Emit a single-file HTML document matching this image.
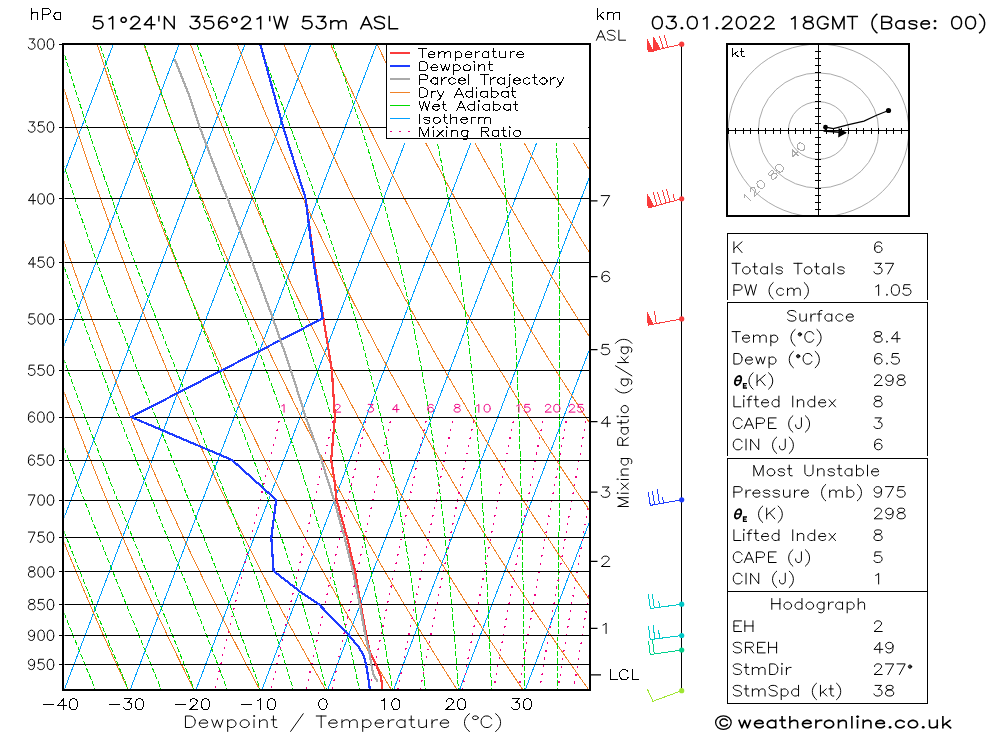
<!DOCTYPE html>
<html><head><meta charset="utf-8"><title>Skew-T</title>
<style>html,body{margin:0;padding:0;background:#fff;}svg{display:block;}body{font-family:"Liberation Sans",sans-serif;}</style></head>
<body>
<svg width="1000" height="733" viewBox="0 0 1000 733" font-family="'Liberation Sans', sans-serif" text-rendering="geometricPrecision">
<defs><path id="h39" d="M4 -21 4 -14" fill="none" stroke-linecap="square" stroke-linejoin="round" vector-effect="non-scaling-stroke"/><path id="h40" d="M11 -25 9 -23 7 -20 5 -16 4 -11 4 -7 5 -2 7 2 9 5 11 7" fill="none" stroke-linecap="square" stroke-linejoin="round" vector-effect="non-scaling-stroke"/><path id="h41" d="M3 -25 5 -23 7 -20 9 -16 10 -11 10 -7 9 -2 7 2 5 5 3 7" fill="none" stroke-linecap="square" stroke-linejoin="round" vector-effect="non-scaling-stroke"/><path id="h45" d="M4 -9 22 -9" fill="none" stroke-linecap="square" stroke-linejoin="round" vector-effect="non-scaling-stroke"/><path id="h46" d="M6 -1 5 -2 4 -1 5 0 6 -1" fill="none" stroke-linecap="square" stroke-linejoin="round" vector-effect="non-scaling-stroke"/><path id="h47" d="M20 -25 2 7" fill="none" stroke-linecap="square" stroke-linejoin="round" vector-effect="non-scaling-stroke"/><path id="h48" d="M17 -9 17 -12 16 -17 14 -20 11 -21 9 -21 6 -20 4 -17 3 -12 3 -9 4 -4 6 -1 9 0 11 0 14 -1 16 -4 17 -9" fill="none" stroke-linecap="square" stroke-linejoin="round" vector-effect="non-scaling-stroke"/><path id="h49" d="M6 -17 8 -18 11 -21 11 0" fill="none" stroke-linecap="square" stroke-linejoin="round" vector-effect="non-scaling-stroke"/><path id="h50" d="M4 -16 4 -17 5 -19 6 -20 8 -21 12 -21 14 -20 15 -19 16 -17 16 -15 15 -13 13 -10 3 0 17 0" fill="none" stroke-linecap="square" stroke-linejoin="round" vector-effect="non-scaling-stroke"/><path id="h51" d="M5 -21 16 -21 10 -13 13 -13 15 -12 16 -11 17 -8 17 -6 16 -3 14 -1 11 0 8 0 5 -1 4 -2 3 -4" fill="none" stroke-linecap="square" stroke-linejoin="round" vector-effect="non-scaling-stroke"/><path id="h52" d="M18 -7 3 -7 13 -21 13 0" fill="none" stroke-linecap="square" stroke-linejoin="round" vector-effect="non-scaling-stroke"/><path id="h53" d="M3 -4 4 -2 5 -1 8 0 11 0 14 -1 16 -3 17 -6 17 -8 16 -11 14 -13 11 -14 8 -14 5 -13 4 -12 5 -21 15 -21" fill="none" stroke-linecap="square" stroke-linejoin="round" vector-effect="non-scaling-stroke"/><path id="h54" d="M16 -18 15 -20 12 -21 10 -21 7 -20 5 -17 4 -12 4 -7 5 -3 7 -1 10 0 11 0 14 -1 16 -3 17 -6 17 -7 16 -10 14 -12 11 -13 10 -13 7 -12 5 -10 4 -7" fill="none" stroke-linecap="square" stroke-linejoin="round" vector-effect="non-scaling-stroke"/><path id="h55" d="M3 -21 17 -21 7 0" fill="none" stroke-linecap="square" stroke-linejoin="round" vector-effect="non-scaling-stroke"/><path id="h56" d="M6 -11 9 -12 13 -13 15 -14 16 -16 16 -18 15 -20 12 -21 8 -21 5 -20 4 -18 4 -16 5 -14 7 -13 11 -12 14 -11 16 -9 17 -7 17 -4 16 -2 15 -1 12 0 8 0 5 -1 4 -2 3 -4 3 -7 4 -9 6 -11" fill="none" stroke-linecap="square" stroke-linejoin="round" vector-effect="non-scaling-stroke"/><path id="h57" d="M16 -14 15 -11 13 -9 10 -8 9 -8 6 -9 4 -11 3 -14 3 -15 4 -18 6 -20 9 -21 10 -21 13 -20 15 -18 16 -14 16 -9 15 -4 13 -1 10 0 8 0 5 -1 4 -3" fill="none" stroke-linecap="square" stroke-linejoin="round" vector-effect="non-scaling-stroke"/><path id="h58" d="M6 -13 5 -14 4 -13 5 -12 6 -13M6 -1 5 -2 4 -1 5 0 6 -1" fill="none" stroke-linecap="square" stroke-linejoin="round" vector-effect="non-scaling-stroke"/><path id="h65" d="M17 0 9 -21 1 0M4 -7 14 -7" fill="none" stroke-linecap="square" stroke-linejoin="round" vector-effect="non-scaling-stroke"/><path id="h66" d="M13 -11 16 -12 17 -13 18 -15 18 -17 17 -19 16 -20 13 -21 4 -21 4 0 13 0 16 -1 17 -2 18 -4 18 -7 17 -9 16 -10 13 -11 4 -11" fill="none" stroke-linecap="square" stroke-linejoin="round" vector-effect="non-scaling-stroke"/><path id="h67" d="M18 -16 17 -18 15 -20 13 -21 9 -21 7 -20 5 -18 4 -16 3 -13 3 -8 4 -5 5 -3 7 -1 9 0 13 0 15 -1 17 -3 18 -5" fill="none" stroke-linecap="square" stroke-linejoin="round" vector-effect="non-scaling-stroke"/><path id="h68" d="M18 -13 17 -16 16 -18 14 -20 11 -21 4 -21 4 0 11 0 14 -1 16 -3 17 -5 18 -8 18 -13" fill="none" stroke-linecap="square" stroke-linejoin="round" vector-effect="non-scaling-stroke"/><path id="h69" d="M17 -21 4 -21 4 0 17 0M4 -11 12 -11" fill="none" stroke-linecap="square" stroke-linejoin="round" vector-effect="non-scaling-stroke"/><path id="h71" d="M18 -16 17 -18 15 -20 13 -21 9 -21 7 -20 5 -18 4 -16 3 -13 3 -8 4 -5 5 -3 7 -1 9 0 13 0 15 -1 17 -3 18 -5 18 -8 13 -8" fill="none" stroke-linecap="square" stroke-linejoin="round" vector-effect="non-scaling-stroke"/><path id="h72" d="M4 -21 4 0M18 -21 18 0M4 -11 18 -11" fill="none" stroke-linecap="square" stroke-linejoin="round" vector-effect="non-scaling-stroke"/><path id="h73" d="M4 -21 4 0" fill="none" stroke-linecap="square" stroke-linejoin="round" vector-effect="non-scaling-stroke"/><path id="h74" d="M12 -21 12 -5 11 -2 10 -1 8 0 6 0 4 -1 3 -2 2 -5 2 -7" fill="none" stroke-linecap="square" stroke-linejoin="round" vector-effect="non-scaling-stroke"/><path id="h75" d="M4 -21 4 0M18 -21 4 -7M9 -12 18 0" fill="none" stroke-linecap="square" stroke-linejoin="round" vector-effect="non-scaling-stroke"/><path id="h76" d="M4 -21 4 0 16 0" fill="none" stroke-linecap="square" stroke-linejoin="round" vector-effect="non-scaling-stroke"/><path id="h77" d="M4 0 4 -21 12 0 20 -21 20 0" fill="none" stroke-linecap="square" stroke-linejoin="round" vector-effect="non-scaling-stroke"/><path id="h78" d="M4 0 4 -21 18 0 18 -21" fill="none" stroke-linecap="square" stroke-linejoin="round" vector-effect="non-scaling-stroke"/><path id="h80" d="M4 -10 13 -10 16 -11 17 -12 18 -14 18 -17 17 -19 16 -20 13 -21 4 -21 4 0" fill="none" stroke-linecap="square" stroke-linejoin="round" vector-effect="non-scaling-stroke"/><path id="h82" d="M4 -11 13 -11 16 -12 17 -13 18 -15 18 -17 17 -19 16 -20 13 -21 4 -21 4 0M11 -11 18 0" fill="none" stroke-linecap="square" stroke-linejoin="round" vector-effect="non-scaling-stroke"/><path id="h83" d="M17 -18 15 -20 12 -21 8 -21 5 -20 3 -18 3 -16 4 -14 5 -13 7 -12 13 -10 15 -9 16 -8 17 -6 17 -3 15 -1 12 0 8 0 5 -1 3 -3" fill="none" stroke-linecap="square" stroke-linejoin="round" vector-effect="non-scaling-stroke"/><path id="h84" d="M8 -21 8 0M1 -21 15 -21" fill="none" stroke-linecap="square" stroke-linejoin="round" vector-effect="non-scaling-stroke"/><path id="h85" d="M4 -21 4 -6 5 -3 7 -1 10 0 12 0 15 -1 17 -3 18 -6 18 -21" fill="none" stroke-linecap="square" stroke-linejoin="round" vector-effect="non-scaling-stroke"/><path id="h87" d="M2 -21 7 0 12 -21 17 0 22 -21" fill="none" stroke-linecap="square" stroke-linejoin="round" vector-effect="non-scaling-stroke"/><path id="h97" d="M15 -14 15 0M15 -11 13 -13 11 -14 8 -14 6 -13 4 -11 3 -8 3 -6 4 -3 6 -1 8 0 11 0 13 -1 15 -3" fill="none" stroke-linecap="square" stroke-linejoin="round" vector-effect="non-scaling-stroke"/><path id="h98" d="M4 -21 4 0M4 -11 6 -13 8 -14 11 -14 13 -13 15 -11 16 -8 16 -6 15 -3 13 -1 11 0 8 0 6 -1 4 -3" fill="none" stroke-linecap="square" stroke-linejoin="round" vector-effect="non-scaling-stroke"/><path id="h99" d="M15 -11 13 -13 11 -14 8 -14 6 -13 4 -11 3 -8 3 -6 4 -3 6 -1 8 0 11 0 13 -1 15 -3" fill="none" stroke-linecap="square" stroke-linejoin="round" vector-effect="non-scaling-stroke"/><path id="h100" d="M15 -21 15 0M15 -11 13 -13 11 -14 8 -14 6 -13 4 -11 3 -8 3 -6 4 -3 6 -1 8 0 11 0 13 -1 15 -3" fill="none" stroke-linecap="square" stroke-linejoin="round" vector-effect="non-scaling-stroke"/><path id="h101" d="M13 -13 11 -14 8 -14 6 -13 4 -11 3 -8 15 -8 15 -10 14 -12 13 -13M3 -8 3 -6 4 -3 6 -1 8 0 11 0 13 -1 15 -3" fill="none" stroke-linecap="square" stroke-linejoin="round" vector-effect="non-scaling-stroke"/><path id="h102" d="M10 -21 8 -21 6 -20 5 -17 5 0M2 -14 9 -14" fill="none" stroke-linecap="square" stroke-linejoin="round" vector-effect="non-scaling-stroke"/><path id="h103" d="M15 -14 15 2 14 5 13 6 11 7 8 7 6 6M15 -11 13 -13 11 -14 8 -14 6 -13 4 -11 3 -8 3 -6 4 -3 6 -1 8 0 11 0 13 -1 15 -3" fill="none" stroke-linecap="square" stroke-linejoin="round" vector-effect="non-scaling-stroke"/><path id="h104" d="M4 -21 4 0M4 -10 7 -13 9 -14 12 -14 14 -13 15 -10 15 0" fill="none" stroke-linecap="square" stroke-linejoin="round" vector-effect="non-scaling-stroke"/><path id="h105" d="M4 -14 4 0M5 -21 4 -22 3 -21 4 -20 5 -21" fill="none" stroke-linecap="square" stroke-linejoin="round" vector-effect="non-scaling-stroke"/><path id="h106" d="M6 -14 6 3 5 6 3 7 1 7M7 -21 6 -22 5 -21 6 -20 7 -21" fill="none" stroke-linecap="square" stroke-linejoin="round" vector-effect="non-scaling-stroke"/><path id="h107" d="M4 -21 4 0M14 -14 4 -4M8 -8 15 0" fill="none" stroke-linecap="square" stroke-linejoin="round" vector-effect="non-scaling-stroke"/><path id="h108" d="M4 -21 4 0" fill="none" stroke-linecap="square" stroke-linejoin="round" vector-effect="non-scaling-stroke"/><path id="h109" d="M4 -14 4 0M26 0 26 -10 25 -13 23 -14 20 -14 18 -13 15 -10 15 0M15 -10 14 -13 12 -14 9 -14 7 -13 4 -10" fill="none" stroke-linecap="square" stroke-linejoin="round" vector-effect="non-scaling-stroke"/><path id="h110" d="M4 -14 4 0M4 -10 7 -13 9 -14 12 -14 14 -13 15 -10 15 0" fill="none" stroke-linecap="square" stroke-linejoin="round" vector-effect="non-scaling-stroke"/><path id="h111" d="M16 -6 16 -8 15 -11 13 -13 11 -14 8 -14 6 -13 4 -11 3 -8 3 -6 4 -3 6 -1 8 0 11 0 13 -1 15 -3 16 -6" fill="none" stroke-linecap="square" stroke-linejoin="round" vector-effect="non-scaling-stroke"/><path id="h112" d="M4 -14 4 7M4 -11 6 -13 8 -14 11 -14 13 -13 15 -11 16 -8 16 -6 15 -3 13 -1 11 0 8 0 6 -1 4 -3" fill="none" stroke-linecap="square" stroke-linejoin="round" vector-effect="non-scaling-stroke"/><path id="h114" d="M4 -14 4 0M12 -14 9 -14 7 -13 5 -11 4 -8" fill="none" stroke-linecap="square" stroke-linejoin="round" vector-effect="non-scaling-stroke"/><path id="h115" d="M14 -11 13 -13 10 -14 7 -14 4 -13 3 -11 4 -9 6 -8 11 -7 13 -6 14 -4 14 -3 13 -1 10 0 7 0 4 -1 3 -3" fill="none" stroke-linecap="square" stroke-linejoin="round" vector-effect="non-scaling-stroke"/><path id="h116" d="M5 -21 5 -4 6 -1 8 0 10 0M2 -14 9 -14" fill="none" stroke-linecap="square" stroke-linejoin="round" vector-effect="non-scaling-stroke"/><path id="h117" d="M15 -14 15 0M4 -14 4 -4 5 -1 7 0 10 0 12 -1 15 -4" fill="none" stroke-linecap="square" stroke-linejoin="round" vector-effect="non-scaling-stroke"/><path id="h119" d="M3 -14 7 0 11 -14 15 0 19 -14" fill="none" stroke-linecap="square" stroke-linejoin="round" vector-effect="non-scaling-stroke"/><path id="h120" d="M3 -14 14 0M14 -14 3 0" fill="none" stroke-linecap="square" stroke-linejoin="round" vector-effect="non-scaling-stroke"/><path id="h121" d="M2 -14 8 0 14 -14M8 0 6 4 4 6 2 7 1 7" fill="none" stroke-linecap="square" stroke-linejoin="round" vector-effect="non-scaling-stroke"/><path id="h176" d="M8.2 -15.6 7.35 -13.27 5.3 -12.3 3.25 -13.27 2.4 -15.6 3.25 -17.93 5.3 -18.9 7.35 -17.93 8.2 -15.6M6.8 -15.6 6.05 -14.04 4.55 -14.04 3.8 -15.6 4.55 -17.16 6.05 -17.16 6.8 -15.6" fill="none" stroke-linecap="square" stroke-linejoin="round" vector-effect="non-scaling-stroke"/><path id="h730" d="M9.8 -17.8 9 -15.8 6.9 -14.57 4.3 -14.57 2.2 -15.8 1.4 -17.8 2.2 -19.8 4.3 -21.03 6.9 -21.03 9 -19.8 9.8 -17.8" fill="none" stroke-linecap="square" stroke-linejoin="round" vector-effect="non-scaling-stroke"/><path id="h8304" d="M10.5 -15.2 9.77 -12.67 7.87 -11.11 5.53 -11.11 3.63 -12.67 2.9 -15.2 3.63 -17.73 5.53 -19.29 7.87 -19.29 9.77 -17.73 10.5 -15.2" fill="none" stroke-linecap="square" stroke-linejoin="round" vector-effect="non-scaling-stroke"/></defs>
<rect x="0" y="0" width="1000" height="733" fill="#fff"/>
<defs><clipPath id="cc"><rect x="64.5" y="44.5" width="524.5" height="645.0"/></clipPath></defs>
<g clip-path="url(#cc)" fill="none" stroke-linecap="butt" shape-rendering="crispEdges">
<path d="M-462.5 689.5 L-215.9 44.0 M-396.6 689.5 L-150.0 44.0 M-330.8 689.5 L-84.2 44.0 M-264.9 689.5 L-18.3 44.0 M-199.0 689.5 L47.5 44.0 M-133.2 689.5 L113.4 44.0 M-67.3 689.5 L179.3 44.0 M-1.5 689.5 L245.1 44.0 M64.4 689.5 L311.0 44.0 M130.3 689.5 L376.8 44.0 M196.1 689.5 L442.7 44.0 M262.0 689.5 L508.6 44.0 M327.8 689.5 L574.4 44.0 M393.7 689.5 L640.3 44.0 M459.6 689.5 L706.1 44.0 M525.4 689.5 L772.0 44.0 M591.3 689.5 L837.9 44.0" stroke="#00a0ff" stroke-width="1.0"/>
<path d="M128.9 691.1 L126.8 686.6 L124.2 681.1 L121.7 675.6 L119.1 670.0 L116.5 664.4 L113.9 658.7 L111.3 652.9 L108.7 647.1 L106.1 641.2 L103.4 635.3 L100.8 629.3 L98.1 623.2 L95.4 617.0 L92.7 610.8 L90.0 604.5 L87.3 598.1 L84.5 591.7 L81.8 585.2 L79.0 578.6 L76.2 571.9 L73.4 565.1 L70.5 558.3 L67.7 551.3 L64.9 544.3 L62.0 537.1 L59.1 529.9 L56.2 522.6 L53.2 515.2 L50.3 507.6 L47.3 500.0 L44.4 492.3 L41.4 484.4 L38.3 476.4 L35.3 468.3 L32.3 460.1 L29.2 451.8 L26.1 443.3 L23.0 434.7 L19.8 425.9 L16.7 417.1 L13.5 408.0 L10.3 398.8 L7.1 389.4 L3.8 379.9 L0.5 370.2 L-2.7 360.3 L-6.1 350.3 L-9.4 340.0 L-12.8 329.6 L-16.2 318.9 L-19.6 308.1 L-23.0 297.0 L-26.5 285.6 L-30.0 274.1 L-33.5 262.2 L-37.0 250.1 L-40.6 237.8 L-44.2 225.1 L-47.8 212.1 L-51.5 198.8 L-55.2 185.2 L-58.9 171.2 L-62.6 156.9 L-66.4 142.1 L-70.2 127.0 L-74.0 111.4 L-77.9 95.3 L-81.8 78.7 L-85.7 61.6 L-89.7 44.0 L-93.6 25.8 M194.7 691.1 L192.5 686.6 L189.7 681.1 L187.0 675.6 L184.2 670.0 L181.4 664.4 L178.6 658.7 L175.8 652.9 L173.0 647.1 L170.2 641.2 L167.3 635.3 L164.5 629.3 L161.6 623.2 L158.7 617.0 L155.8 610.8 L152.9 604.5 L149.9 598.1 L147.0 591.7 L144.0 585.2 L141.0 578.6 L138.0 571.9 L134.9 565.1 L131.9 558.3 L128.8 551.3 L125.7 544.3 L122.6 537.1 L119.5 529.9 L116.4 522.6 L113.2 515.2 L110.0 507.6 L106.8 500.0 L103.6 492.3 L100.3 484.4 L97.1 476.4 L93.8 468.3 L90.5 460.1 L87.1 451.8 L83.8 443.3 L80.4 434.7 L77.0 425.9 L73.6 417.1 L70.1 408.0 L66.6 398.8 L63.1 389.4 L59.6 379.9 L56.1 370.2 L52.5 360.3 L48.9 350.3 L45.2 340.0 L41.6 329.6 L37.9 318.9 L34.1 308.1 L30.4 297.0 L26.6 285.6 L22.8 274.1 L18.9 262.2 L15.1 250.1 L11.1 237.8 L7.2 225.1 L3.2 212.1 L-0.8 198.8 L-4.9 185.2 L-8.9 171.2 L-13.1 156.9 L-17.2 142.1 L-21.4 127.0 L-25.7 111.4 L-29.9 95.3 L-34.2 78.7 L-38.6 61.6 L-43.0 44.0 L-47.4 25.8 M260.6 691.1 L258.1 686.6 L255.2 681.1 L252.3 675.6 L249.3 670.0 L246.3 664.4 L243.4 658.7 L240.4 652.9 L237.3 647.1 L234.3 641.2 L231.2 635.3 L228.2 629.3 L225.1 623.2 L222.0 617.0 L218.9 610.8 L215.7 604.5 L212.6 598.1 L209.4 591.7 L206.2 585.2 L203.0 578.6 L199.8 571.9 L196.5 565.1 L193.2 558.3 L189.9 551.3 L186.6 544.3 L183.3 537.1 L179.9 529.9 L176.6 522.6 L173.2 515.2 L169.7 507.6 L166.3 500.0 L162.8 492.3 L159.3 484.4 L155.8 476.4 L152.3 468.3 L148.7 460.1 L145.1 451.8 L141.5 443.3 L137.9 434.7 L134.2 425.9 L130.5 417.1 L126.8 408.0 L123.0 398.8 L119.2 389.4 L115.4 379.9 L111.6 370.2 L107.7 360.3 L103.8 350.3 L99.9 340.0 L95.9 329.6 L91.9 318.9 L87.8 308.1 L83.8 297.0 L79.7 285.6 L75.5 274.1 L71.3 262.2 L67.1 250.1 L62.9 237.8 L58.6 225.1 L54.2 212.1 L49.9 198.8 L45.5 185.2 L41.0 171.2 L36.5 156.9 L32.0 142.1 L27.4 127.0 L22.7 111.4 L18.0 95.3 L13.3 78.7 L8.5 61.6 L3.7 44.0 L-1.2 25.8 M326.4 691.1 L323.8 686.6 L320.7 681.1 L317.6 675.6 L314.4 670.0 L311.2 664.4 L308.1 658.7 L304.9 652.9 L301.6 647.1 L298.4 641.2 L295.2 635.3 L291.9 629.3 L288.6 623.2 L285.3 617.0 L282.0 610.8 L278.6 604.5 L275.2 598.1 L271.8 591.7 L268.4 585.2 L265.0 578.6 L261.5 571.9 L258.1 565.1 L254.6 558.3 L251.1 551.3 L247.5 544.3 L244.0 537.1 L240.4 529.9 L236.7 522.6 L233.1 515.2 L229.4 507.6 L225.8 500.0 L222.0 492.3 L218.3 484.4 L214.5 476.4 L210.7 468.3 L206.9 460.1 L203.1 451.8 L199.2 443.3 L195.3 434.7 L191.4 425.9 L187.4 417.1 L183.4 408.0 L179.4 398.8 L175.3 389.4 L171.2 379.9 L167.1 370.2 L162.9 360.3 L158.7 350.3 L154.5 340.0 L150.2 329.6 L145.9 318.9 L141.5 308.1 L137.2 297.0 L132.7 285.6 L128.3 274.1 L123.8 262.2 L119.2 250.1 L114.6 237.8 L110.0 225.1 L105.3 212.1 L100.6 198.8 L95.8 185.2 L90.9 171.2 L86.1 156.9 L81.1 142.1 L76.1 127.0 L71.1 111.4 L66.0 95.3 L60.8 78.7 L55.6 61.6 L50.4 44.0 L45.0 25.8 M392.2 691.1 L389.5 686.6 L386.2 681.1 L382.8 675.6 L379.5 670.0 L376.1 664.4 L372.8 658.7 L369.4 652.9 L366.0 647.1 L362.5 641.2 L359.1 635.3 L355.6 629.3 L352.1 623.2 L348.6 617.0 L345.0 610.8 L341.5 604.5 L337.9 598.1 L334.3 591.7 L330.7 585.2 L327.0 578.6 L323.3 571.9 L319.6 565.1 L315.9 558.3 L312.2 551.3 L308.4 544.3 L304.6 537.1 L300.8 529.9 L296.9 522.6 L293.1 515.2 L289.2 507.6 L285.2 500.0 L281.3 492.3 L277.3 484.4 L273.3 476.4 L269.2 468.3 L265.2 460.1 L261.0 451.8 L256.9 443.3 L252.7 434.7 L248.5 425.9 L244.3 417.1 L240.0 408.0 L235.7 398.8 L231.4 389.4 L227.0 379.9 L222.6 370.2 L218.1 360.3 L213.6 350.3 L209.1 340.0 L204.5 329.6 L199.9 318.9 L195.3 308.1 L190.6 297.0 L185.8 285.6 L181.0 274.1 L176.2 262.2 L171.3 250.1 L166.3 237.8 L161.4 225.1 L156.3 212.1 L151.2 198.8 L146.1 185.2 L140.9 171.2 L135.6 156.9 L130.3 142.1 L124.9 127.0 L119.5 111.4 L114.0 95.3 L108.4 78.7 L102.8 61.6 L97.0 44.0 L91.3 25.8 M458.1 691.1 L455.1 686.6 L451.6 681.1 L448.1 675.6 L444.6 670.0 L441.0 664.4 L437.5 658.7 L433.9 652.9 L430.3 647.1 L426.6 641.2 L423.0 635.3 L419.3 629.3 L415.6 623.2 L411.9 617.0 L408.1 610.8 L404.3 604.5 L400.5 598.1 L396.7 591.7 L392.9 585.2 L389.0 578.6 L385.1 571.9 L381.2 565.1 L377.3 558.3 L373.3 551.3 L369.3 544.3 L365.3 537.1 L361.2 529.9 L357.1 522.6 L353.0 515.2 L348.9 507.6 L344.7 500.0 L340.5 492.3 L336.3 484.4 L332.0 476.4 L327.7 468.3 L323.4 460.1 L319.0 451.8 L314.6 443.3 L310.2 434.7 L305.7 425.9 L301.2 417.1 L296.7 408.0 L292.1 398.8 L287.5 389.4 L282.8 379.9 L278.1 370.2 L273.3 360.3 L268.6 350.3 L263.7 340.0 L258.9 329.6 L253.9 318.9 L249.0 308.1 L243.9 297.0 L238.9 285.6 L233.8 274.1 L228.6 262.2 L223.4 250.1 L218.1 237.8 L212.8 225.1 L207.4 212.1 L201.9 198.8 L196.4 185.2 L190.8 171.2 L185.2 156.9 L179.5 142.1 L173.7 127.0 L167.8 111.4 L161.9 95.3 L155.9 78.7 L149.9 61.6 L143.7 44.0 L137.5 25.8 M523.9 691.1 L520.8 686.6 L517.1 681.1 L513.4 675.6 L509.7 670.0 L505.9 664.4 L502.2 658.7 L498.4 652.9 L494.6 647.1 L490.7 641.2 L486.9 635.3 L483.0 629.3 L479.1 623.2 L475.1 617.0 L471.2 610.8 L467.2 604.5 L463.2 598.1 L459.2 591.7 L455.1 585.2 L451.0 578.6 L446.9 571.9 L442.8 565.1 L438.6 558.3 L434.4 551.3 L430.2 544.3 L425.9 537.1 L421.6 529.9 L417.3 522.6 L413.0 515.2 L408.6 507.6 L404.2 500.0 L399.7 492.3 L395.3 484.4 L390.7 476.4 L386.2 468.3 L381.6 460.1 L377.0 451.8 L372.3 443.3 L367.6 434.7 L362.9 425.9 L358.1 417.1 L353.3 408.0 L348.4 398.8 L343.5 389.4 L338.6 379.9 L333.6 370.2 L328.6 360.3 L323.5 350.3 L318.4 340.0 L313.2 329.6 L307.9 318.9 L302.7 308.1 L297.3 297.0 L291.9 285.6 L286.5 274.1 L281.0 262.2 L275.4 250.1 L269.8 237.8 L264.1 225.1 L258.4 212.1 L252.6 198.8 L246.7 185.2 L240.8 171.2 L234.7 156.9 L228.6 142.1 L222.5 127.0 L216.2 111.4 L209.9 95.3 L203.5 78.7 L197.0 61.6 L190.4 44.0 L183.7 25.8 M589.7 691.1 L586.5 686.6 L582.6 681.1 L578.7 675.6 L574.8 670.0 L570.8 664.4 L566.9 658.7 L562.9 652.9 L558.9 647.1 L554.8 641.2 L550.8 635.3 L546.7 629.3 L542.6 623.2 L538.4 617.0 L534.3 610.8 L530.1 604.5 L525.9 598.1 L521.6 591.7 L517.3 585.2 L513.0 578.6 L508.7 571.9 L504.3 565.1 L499.9 558.3 L495.5 551.3 L491.1 544.3 L486.6 537.1 L482.1 529.9 L477.5 522.6 L472.9 515.2 L468.3 507.6 L463.7 500.0 L459.0 492.3 L454.2 484.4 L449.5 476.4 L444.7 468.3 L439.8 460.1 L435.0 451.8 L430.0 443.3 L425.1 434.7 L420.1 425.9 L415.0 417.1 L409.9 408.0 L404.8 398.8 L399.6 389.4 L394.4 379.9 L389.1 370.2 L383.8 360.3 L378.4 350.3 L373.0 340.0 L367.5 329.6 L362.0 318.9 L356.4 308.1 L350.7 297.0 L345.0 285.6 L339.2 274.1 L333.4 262.2 L327.5 250.1 L321.6 237.8 L315.5 225.1 L309.4 212.1 L303.3 198.8 L297.0 185.2 L290.7 171.2 L284.3 156.9 L277.8 142.1 L271.3 127.0 L264.6 111.4 L257.9 95.3 L251.0 78.7 L244.1 61.6 L237.1 44.0 L229.9 25.8 M655.6 691.1 L652.2 686.6 L648.1 681.1 L644.0 675.6 L639.9 670.0 L635.7 664.4 L631.6 658.7 L627.4 652.9 L623.2 647.1 L618.9 641.2 L614.7 635.3 L610.4 629.3 L606.1 623.2 L601.7 617.0 L597.3 610.8 L592.9 604.5 L588.5 598.1 L584.1 591.7 L579.6 585.2 L575.0 578.6 L570.5 571.9 L565.9 565.1 L561.3 558.3 L556.6 551.3 L552.0 544.3 L547.2 537.1 L542.5 529.9 L537.7 522.6 L532.9 515.2 L528.0 507.6 L523.1 500.0 L518.2 492.3 L513.2 484.4 L508.2 476.4 L503.2 468.3 L498.1 460.1 L492.9 451.8 L487.7 443.3 L482.5 434.7 L477.2 425.9 L471.9 417.1 L466.6 408.0 L461.2 398.8 L455.7 389.4 L450.2 379.9 L444.6 370.2 L439.0 360.3 L433.3 350.3 L427.6 340.0 L421.8 329.6 L416.0 318.9 L410.1 308.1 L404.1 297.0 L398.1 285.6 L392.0 274.1 L385.8 262.2 L379.6 250.1 L373.3 237.8 L366.9 225.1 L360.5 212.1 L353.9 198.8 L347.3 185.2 L340.6 171.2 L333.9 156.9 L327.0 142.1 L320.0 127.0 L313.0 111.4 L305.8 95.3 L298.6 78.7 L291.2 61.6 L283.7 44.0 L276.2 25.8 M721.4 691.1 L717.8 686.6 L713.6 681.1 L709.3 675.6 L705.0 670.0 L700.6 664.4 L696.3 658.7 L691.9 652.9 L687.5 647.1 L683.1 641.2 L678.6 635.3 L674.1 629.3 L669.6 623.2 L665.0 617.0 L660.4 610.8 L655.8 604.5 L651.2 598.1 L646.5 591.7 L641.8 585.2 L637.1 578.6 L632.3 571.9 L627.5 565.1 L622.6 558.3 L617.8 551.3 L612.8 544.3 L607.9 537.1 L602.9 529.9 L597.9 522.6 L592.8 515.2 L587.7 507.6 L582.6 500.0 L577.4 492.3 L572.2 484.4 L566.9 476.4 L561.6 468.3 L556.3 460.1 L550.9 451.8 L545.4 443.3 L540.0 434.7 L534.4 425.9 L528.8 417.1 L523.2 408.0 L517.5 398.8 L511.8 389.4 L506.0 379.9 L500.1 370.2 L494.2 360.3 L488.3 350.3 L482.2 340.0 L476.1 329.6 L470.0 318.9 L463.8 308.1 L457.5 297.0 L451.2 285.6 L444.7 274.1 L438.2 262.2 L431.7 250.1 L425.0 237.8 L418.3 225.1 L411.5 212.1 L404.6 198.8 L397.6 185.2 L390.6 171.2 L383.4 156.9 L376.2 142.1 L368.8 127.0 L361.3 111.4 L353.8 95.3 L346.1 78.7 L338.3 61.6 L330.4 44.0 L322.4 25.8 M787.2 691.1 L783.5 686.6 L779.0 681.1 L774.6 675.6 L770.1 670.0 L765.5 664.4 L761.0 658.7 L756.4 652.9 L751.8 647.1 L747.2 641.2 L742.5 635.3 L737.8 629.3 L733.1 623.2 L728.3 617.0 L723.5 610.8 L718.7 604.5 L713.8 598.1 L708.9 591.7 L704.0 585.2 L699.1 578.6 L694.1 571.9 L689.0 565.1 L684.0 558.3 L678.9 551.3 L673.7 544.3 L668.6 537.1 L663.3 529.9 L658.1 522.6 L652.8 515.2 L647.5 507.6 L642.1 500.0 L636.6 492.3 L631.2 484.4 L625.7 476.4 L620.1 468.3 L614.5 460.1 L608.9 451.8 L603.2 443.3 L597.4 434.7 L591.6 425.9 L585.7 417.1 L579.8 408.0 L573.9 398.8 L567.9 389.4 L561.8 379.9 L555.6 370.2 L549.4 360.3 L543.2 350.3 L536.9 340.0 L530.5 329.6 L524.0 318.9 L517.5 308.1 L510.9 297.0 L504.2 285.6 L497.5 274.1 L490.7 262.2 L483.8 250.1 L476.8 237.8 L469.7 225.1 L462.5 212.1 L455.3 198.8 L447.9 185.2 L440.5 171.2 L433.0 156.9 L425.3 142.1 L417.6 127.0 L409.7 111.4 L401.7 95.3 L393.7 78.7 L385.4 61.6 L377.1 44.0 L368.6 25.8 M853.0 691.1 L849.2 686.6 L844.5 681.1 L839.9 675.6 L835.2 670.0 L830.4 664.4 L825.7 658.7 L820.9 652.9 L816.1 647.1 L811.3 641.2 L806.4 635.3 L801.5 629.3 L796.6 623.2 L791.6 617.0 L786.6 610.8 L781.6 604.5 L776.5 598.1 L771.4 591.7 L766.2 585.2 L761.1 578.6 L755.9 571.9 L750.6 565.1 L745.3 558.3 L740.0 551.3 L734.6 544.3 L729.2 537.1 L723.8 529.9 L718.3 522.6 L712.7 515.2 L707.2 507.6 L701.5 500.0 L695.9 492.3 L690.2 484.4 L684.4 476.4 L678.6 468.3 L672.7 460.1 L666.8 451.8 L660.9 443.3 L654.8 434.7 L648.8 425.9 L642.7 417.1 L636.5 408.0 L630.2 398.8 L623.9 389.4 L617.6 379.9 L611.1 370.2 L604.7 360.3 L598.1 350.3 L591.5 340.0 L584.8 329.6 L578.0 318.9 L571.2 308.1 L564.3 297.0 L557.3 285.6 L550.2 274.1 L543.1 262.2 L535.8 250.1 L528.5 237.8 L521.1 225.1 L513.6 212.1 L506.0 198.8 L498.3 185.2 L490.5 171.2 L482.5 156.9 L474.5 142.1 L466.4 127.0 L458.1 111.4 L449.7 95.3 L441.2 78.7 L432.5 61.6 L423.8 44.0 L414.8 25.8 M918.9 691.1 L914.8 686.6 L910.0 681.1 L905.2 675.6 L900.3 670.0 L895.3 664.4 L890.4 658.7 L885.4 652.9 L880.4 647.1 L875.4 641.2 L870.3 635.3 L865.2 629.3 L860.1 623.2 L854.9 617.0 L849.7 610.8 L844.4 604.5 L839.1 598.1 L833.8 591.7 L828.5 585.2 L823.1 578.6 L817.6 571.9 L812.2 565.1 L806.7 558.3 L801.1 551.3 L795.5 544.3 L789.9 537.1 L784.2 529.9 L778.5 522.6 L772.7 515.2 L766.9 507.6 L761.0 500.0 L755.1 492.3 L749.1 484.4 L743.1 476.4 L737.1 468.3 L731.0 460.1 L724.8 451.8 L718.6 443.3 L712.3 434.7 L706.0 425.9 L699.6 417.1 L693.1 408.0 L686.6 398.8 L680.0 389.4 L673.4 379.9 L666.7 370.2 L659.9 360.3 L653.0 350.3 L646.1 340.0 L639.1 329.6 L632.0 318.9 L624.9 308.1 L617.7 297.0 L610.4 285.6 L603.0 274.1 L595.5 262.2 L587.9 250.1 L580.2 237.8 L572.5 225.1 L564.6 212.1 L556.6 198.8 L548.6 185.2 L540.4 171.2 L532.1 156.9 L523.7 142.1 L515.1 127.0 L506.5 111.4 L497.7 95.3 L488.7 78.7 L479.7 61.6 L470.4 44.0 L461.0 25.8 M984.7 691.1 L980.5 686.6 L975.5 681.1 L970.4 675.6 L965.4 670.0 L960.2 664.4 L955.1 658.7 L949.9 652.9 L944.7 647.1 L939.5 641.2 L934.2 635.3 L928.9 629.3 L923.5 623.2 L918.2 617.0 L912.7 610.8 L907.3 604.5 L901.8 598.1 L896.3 591.7 L890.7 585.2 L885.1 578.6 L879.4 571.9 L873.7 565.1 L868.0 558.3 L862.2 551.3 L856.4 544.3 L850.5 537.1 L844.6 529.9 L838.7 522.6 L832.7 515.2 L826.6 507.6 L820.5 500.0 L814.3 492.3 L808.1 484.4 L801.9 476.4 L795.6 468.3 L789.2 460.1 L782.8 451.8 L776.3 443.3 L769.7 434.7 L763.1 425.9 L756.5 417.1 L749.7 408.0 L742.9 398.8 L736.1 389.4 L729.2 379.9 L722.2 370.2 L715.1 360.3 L708.0 350.3 L700.7 340.0 L693.4 329.6 L686.1 318.9 L678.6 308.1 L671.1 297.0 L663.4 285.6 L655.7 274.1 L647.9 262.2 L640.0 250.1 L632.0 237.8 L623.9 225.1 L615.6 212.1 L607.3 198.8 L598.9 185.2 L590.3 171.2 L581.7 156.9 L572.9 142.1 L563.9 127.0 L554.9 111.4 L545.6 95.3 L536.3 78.7 L526.8 61.6 L517.1 44.0 L507.3 25.8 M1050.5 691.1 L1046.2 686.6 L1041.0 681.1 L1035.7 675.6 L1030.5 670.0 L1025.2 664.4 L1019.8 658.7 L1014.4 652.9 L1009.0 647.1 L1003.6 641.2 L998.1 635.3 L992.6 629.3 L987.0 623.2 L981.5 617.0 L975.8 610.8 L970.2 604.5 L964.5 598.1 L958.7 591.7 L952.9 585.2 L947.1 578.6 L941.2 571.9 L935.3 565.1 L929.3 558.3 L923.3 551.3 L917.3 544.3 L911.2 537.1 L905.0 529.9 L898.9 522.6 L892.6 515.2 L886.3 507.6 L880.0 500.0 L873.6 492.3 L867.1 484.4 L860.6 476.4 L854.0 468.3 L847.4 460.1 L840.7 451.8 L834.0 443.3 L827.2 434.7 L820.3 425.9 L813.4 417.1 L806.4 408.0 L799.3 398.8 L792.2 389.4 L785.0 379.9 L777.7 370.2 L770.3 360.3 L762.9 350.3 L755.4 340.0 L747.8 329.6 L740.1 318.9 L732.3 308.1 L724.4 297.0 L716.5 285.6 L708.5 274.1 L700.3 262.2 L692.1 250.1 L683.7 237.8 L675.3 225.1 L666.7 212.1 L658.0 198.8 L649.2 185.2 L640.3 171.2 L631.2 156.9 L622.0 142.1 L612.7 127.0 L603.2 111.4 L593.6 95.3 L583.8 78.7 L573.9 61.6 L563.8 44.0 L553.5 25.8 M1116.4 691.1 L1111.8 686.6 L1106.4 681.1 L1101.0 675.6 L1095.6 670.0 L1090.1 664.4 L1084.5 658.7 L1078.9 652.9 L1073.3 647.1 L1067.7 641.2 L1062.0 635.3 L1056.3 629.3 L1050.5 623.2 L1044.7 617.0 L1038.9 610.8 L1033.0 604.5 L1027.1 598.1 L1021.1 591.7 L1015.1 585.2 L1009.1 578.6 L1003.0 571.9 L996.9 565.1 L990.7 558.3 L984.5 551.3 L978.2 544.3 L971.8 537.1 L965.5 529.9 L959.0 522.6 L952.6 515.2 L946.0 507.6 L939.4 500.0 L932.8 492.3 L926.1 484.4 L919.3 476.4 L912.5 468.3 L905.6 460.1 L898.7 451.8 L891.7 443.3 L884.6 434.7 L877.5 425.9 L870.3 417.1 L863.0 408.0 L855.7 398.8 L848.2 389.4 L840.8 379.9 L833.2 370.2 L825.5 360.3 L817.8 350.3 L810.0 340.0 L802.1 329.6 L794.1 318.9 L786.0 308.1 L777.8 297.0 L769.6 285.6 L761.2 274.1 L752.7 262.2 L744.1 250.1 L735.4 237.8 L726.6 225.1 L717.7 212.1 L708.7 198.8 L699.5 185.2 L690.2 171.2 L680.8 156.9 L671.2 142.1 L661.5 127.0 L651.6 111.4 L641.6 95.3 L631.4 78.7 L621.0 61.6 L610.5 44.0 L599.7 25.8 M1182.2 691.1 L1177.5 686.6 L1171.9 681.1 L1166.3 675.6 L1160.6 670.0 L1155.0 664.4 L1149.2 658.7 L1143.5 652.9 L1137.6 647.1 L1131.8 641.2 L1125.9 635.3 L1120.0 629.3 L1114.0 623.2 L1108.0 617.0 L1102.0 610.8 L1095.9 604.5 L1089.8 598.1 L1083.6 591.7 L1077.4 585.2 L1071.1 578.6 L1064.8 571.9 L1058.4 565.1 L1052.0 558.3 L1045.6 551.3 L1039.1 544.3 L1032.5 537.1 L1025.9 529.9 L1019.2 522.6 L1012.5 515.2 L1005.7 507.6 L998.9 500.0 L992.0 492.3 L985.1 484.4 L978.1 476.4 L971.0 468.3 L963.9 460.1 L956.7 451.8 L949.4 443.3 L942.1 434.7 L934.7 425.9 L927.2 417.1 L919.6 408.0 L912.0 398.8 L904.3 389.4 L896.6 379.9 L888.7 370.2 L880.8 360.3 L872.7 350.3 L864.6 340.0 L856.4 329.6 L848.1 318.9 L839.7 308.1 L831.2 297.0 L822.6 285.6 L813.9 274.1 L805.1 262.2 L796.2 250.1 L787.2 237.8 L778.0 225.1 L768.8 212.1 L759.4 198.8 L749.8 185.2 L740.1 171.2 L730.3 156.9 L720.4 142.1 L710.3 127.0 L700.0 111.4 L689.5 95.3 L678.9 78.7 L668.1 61.6 L657.1 44.0 L645.9 25.8 M1248.0 691.1 L1243.2 686.6 L1237.4 681.1 L1231.6 675.6 L1225.7 670.0 L1219.9 664.4 L1213.9 658.7 L1208.0 652.9 L1202.0 647.1 L1195.9 641.2 L1189.8 635.3 L1183.7 629.3 L1177.5 623.2 L1171.3 617.0 L1165.1 610.8 L1158.8 604.5 L1152.4 598.1 L1146.0 591.7 L1139.6 585.2 L1133.1 578.6 L1126.6 571.9 L1120.0 565.1 L1113.4 558.3 L1106.7 551.3 L1100.0 544.3 L1093.2 537.1 L1086.3 529.9 L1079.4 522.6 L1072.5 515.2 L1065.5 507.6 L1058.4 500.0 L1051.3 492.3 L1044.1 484.4 L1036.8 476.4 L1029.5 468.3 L1022.1 460.1 L1014.6 451.8 L1007.1 443.3 L999.5 434.7 L991.8 425.9 L984.1 417.1 L976.3 408.0 L968.4 398.8 L960.4 389.4 L952.3 379.9 L944.2 370.2 L936.0 360.3 L927.7 350.3 L919.2 340.0 L910.7 329.6 L902.1 318.9 L893.4 308.1 L884.6 297.0 L875.7 285.6 L866.7 274.1 L857.5 262.2 L848.3 250.1 L838.9 237.8 L829.4 225.1 L819.8 212.1 L810.0 198.8 L800.1 185.2 L790.1 171.2 L779.9 156.9 L769.5 142.1 L759.0 127.0 L748.4 111.4 L737.5 95.3 L726.5 78.7 L715.2 61.6 L703.8 44.0 L692.2 25.8 M1313.9 691.1 L1308.9 686.6 L1302.9 681.1 L1296.9 675.6 L1290.8 670.0 L1284.8 664.4 L1278.6 658.7 L1272.5 652.9 L1266.3 647.1 L1260.0 641.2 L1253.7 635.3 L1247.4 629.3 L1241.0 623.2 L1234.6 617.0 L1228.1 610.8 L1221.6 604.5 L1215.1 598.1 L1208.5 591.7 L1201.8 585.2 L1195.1 578.6 L1188.4 571.9 L1181.6 565.1 L1174.7 558.3 L1167.8 551.3 L1160.8 544.3 L1153.8 537.1 L1146.7 529.9 L1139.6 522.6 L1132.4 515.2 L1125.2 507.6 L1117.9 500.0 L1110.5 492.3 L1103.0 484.4 L1095.5 476.4 L1088.0 468.3 L1080.3 460.1 L1072.6 451.8 L1064.8 443.3 L1057.0 434.7 L1049.0 425.9 L1041.0 417.1 L1032.9 408.0 L1024.7 398.8 L1016.5 389.4 L1008.1 379.9 L999.7 370.2 L991.2 360.3 L982.6 350.3 L973.9 340.0 L965.1 329.6 L956.1 318.9 L947.1 308.1 L938.0 297.0 L928.8 285.6 L919.4 274.1 L910.0 262.2 L900.4 250.1 L890.7 237.8 L880.8 225.1 L870.8 212.1 L860.7 198.8 L850.4 185.2 L840.0 171.2 L829.5 156.9 L818.7 142.1 L807.8 127.0 L796.7 111.4 L785.5 95.3 L774.0 78.7 L762.3 61.6 L750.5 44.0 L738.4 25.8 M1379.7 691.1 L1374.5 686.6 L1368.4 681.1 L1362.2 675.6 L1355.9 670.0 L1349.7 664.4 L1343.3 658.7 L1337.0 652.9 L1330.6 647.1 L1324.1 641.2 L1317.6 635.3 L1311.1 629.3 L1304.5 623.2 L1297.9 617.0 L1291.2 610.8 L1284.5 604.5 L1277.7 598.1 L1270.9 591.7 L1264.1 585.2 L1257.1 578.6 L1250.2 571.9 L1243.1 565.1 L1236.1 558.3 L1228.9 551.3 L1221.7 544.3 L1214.5 537.1 L1207.2 529.9 L1199.8 522.6 L1192.4 515.2 L1184.9 507.6 L1177.3 500.0 L1169.7 492.3 L1162.0 484.4 L1154.3 476.4 L1146.4 468.3 L1138.5 460.1 L1130.6 451.8 L1122.5 443.3 L1114.4 434.7 L1106.2 425.9 L1097.9 417.1 L1089.6 408.0 L1081.1 398.8 L1072.6 389.4 L1063.9 379.9 L1055.2 370.2 L1046.4 360.3 L1037.5 350.3 L1028.5 340.0 L1019.4 329.6 L1010.2 318.9 L1000.8 308.1 L991.4 297.0 L981.8 285.6 L972.2 274.1 L962.4 262.2 L952.4 250.1 L942.4 237.8 L932.2 225.1 L921.9 212.1 L911.4 198.8 L900.8 185.2 L890.0 171.2 L879.0 156.9 L867.9 142.1 L856.6 127.0 L845.1 111.4 L833.4 95.3 L821.5 78.7 L809.5 61.6 L797.2 44.0 L784.6 25.8 M1445.5 691.1 L1440.2 686.6 L1433.9 681.1 L1427.5 675.6 L1421.0 670.0 L1414.6 664.4 L1408.0 658.7 L1401.5 652.9 L1394.9 647.1 L1388.2 641.2 L1381.5 635.3 L1374.8 629.3 L1368.0 623.2 L1361.2 617.0 L1354.3 610.8 L1347.4 604.5 L1340.4 598.1 L1333.4 591.7 L1326.3 585.2 L1319.1 578.6 L1311.9 571.9 L1304.7 565.1 L1297.4 558.3 L1290.0 551.3 L1282.6 544.3 L1275.1 537.1 L1267.6 529.9 L1260.0 522.6 L1252.3 515.2 L1244.6 507.6 L1236.8 500.0 L1228.9 492.3 L1221.0 484.4 L1213.0 476.4 L1204.9 468.3 L1196.8 460.1 L1188.5 451.8 L1180.2 443.3 L1171.8 434.7 L1163.4 425.9 L1154.8 417.1 L1146.2 408.0 L1137.5 398.8 L1128.6 389.4 L1119.7 379.9 L1110.7 370.2 L1101.6 360.3 L1092.4 350.3 L1083.1 340.0 L1073.7 329.6 L1064.2 318.9 L1054.5 308.1 L1044.8 297.0 L1034.9 285.6 L1024.9 274.1 L1014.8 262.2 L1004.5 250.1 L994.1 237.8 L983.6 225.1 L972.9 212.1 L962.1 198.8 L951.1 185.2 L939.9 171.2 L928.6 156.9 L917.1 142.1 L905.4 127.0 L893.5 111.4 L881.4 95.3 L869.1 78.7 L856.6 61.6 L843.8 44.0 L830.8 25.8 M1511.3 691.1 L1505.9 686.6 L1499.3 681.1 L1492.7 675.6 L1486.1 670.0 L1479.5 664.4 L1472.7 658.7 L1466.0 652.9 L1459.2 647.1 L1452.3 641.2 L1445.4 635.3 L1438.5 629.3 L1431.5 623.2 L1424.5 617.0 L1417.4 610.8 L1410.2 604.5 L1403.0 598.1 L1395.8 591.7 L1388.5 585.2 L1381.1 578.6 L1373.7 571.9 L1366.3 565.1 L1358.7 558.3 L1351.2 551.3 L1343.5 544.3 L1335.8 537.1 L1328.0 529.9 L1320.2 522.6 L1312.3 515.2 L1304.3 507.6 L1296.3 500.0 L1288.2 492.3 L1280.0 484.4 L1271.7 476.4 L1263.4 468.3 L1255.0 460.1 L1246.5 451.8 L1237.9 443.3 L1229.3 434.7 L1220.6 425.9 L1211.7 417.1 L1202.8 408.0 L1193.8 398.8 L1184.7 389.4 L1175.5 379.9 L1166.2 370.2 L1156.8 360.3 L1147.3 350.3 L1137.7 340.0 L1128.0 329.6 L1118.2 318.9 L1108.2 308.1 L1098.2 297.0 L1088.0 285.6 L1077.7 274.1 L1067.2 262.2 L1056.6 250.1 L1045.9 237.8 L1035.0 225.1 L1023.9 212.1 L1012.7 198.8 L1001.4 185.2 L989.8 171.2 L978.1 156.9 L966.2 142.1 L954.1 127.0 L941.9 111.4 L929.4 95.3 L916.6 78.7 L903.7 61.6 L890.5 44.0 L877.1 25.8 M1577.2 691.1 L1571.5 686.6 L1564.8 681.1 L1558.0 675.6 L1551.2 670.0 L1544.4 664.4 L1537.4 658.7 L1530.5 652.9 L1523.5 647.1 L1516.4 641.2 L1509.4 635.3 L1502.2 629.3 L1495.0 623.2 L1487.8 617.0 L1480.5 610.8 L1473.1 604.5 L1465.7 598.1 L1458.2 591.7 L1450.7 585.2 L1443.2 578.6 L1435.5 571.9 L1427.8 565.1 L1420.1 558.3 L1412.3 551.3 L1404.4 544.3 L1396.5 537.1 L1388.5 529.9 L1380.4 522.6 L1372.2 515.2 L1364.0 507.6 L1355.7 500.0 L1347.4 492.3 L1339.0 484.4 L1330.5 476.4 L1321.9 468.3 L1313.2 460.1 L1304.5 451.8 L1295.6 443.3 L1286.7 434.7 L1277.7 425.9 L1268.6 417.1 L1259.5 408.0 L1250.2 398.8 L1240.8 389.4 L1231.3 379.9 L1221.7 370.2 L1212.1 360.3 L1202.3 350.3 L1192.4 340.0 L1182.3 329.6 L1172.2 318.9 L1162.0 308.1 L1151.6 297.0 L1141.0 285.6 L1130.4 274.1 L1119.6 262.2 L1108.7 250.1 L1097.6 237.8 L1086.4 225.1 L1075.0 212.1 L1063.4 198.8 L1051.7 185.2 L1039.8 171.2 L1027.7 156.9 L1015.4 142.1 L1002.9 127.0 L990.2 111.4 L977.3 95.3 L964.2 78.7 L950.8 61.6 L937.2 44.0 L923.3 25.8" stroke="#f08228" stroke-width="1.0"/>
<path d="M64.0 693.3 L61.8 687.9 L59.6 682.5 L57.3 677.0 L55.0 671.4 L52.8 665.8 L50.5 660.1 L48.2 654.4 L45.8 648.6 L43.5 642.7 L41.1 636.8 L38.8 630.8 L36.4 624.7 L34.0 618.6 L31.5 612.4 L29.1 606.1 L26.6 599.7 L24.2 593.3 L21.7 586.8 L19.2 580.2 L16.6 573.6 L14.1 566.8 L11.6 560.0 L9.0 553.1 L6.4 546.0 L3.8 538.9 L1.2 531.7 L-1.5 524.4 L-4.1 517.0 L-6.8 509.5 L-9.5 501.9 L-12.2 494.2 L-14.9 486.4 L-17.7 478.4 L-20.4 470.4 L-23.2 462.2 L-26.0 453.9 L-28.8 445.4 L-31.7 436.9 L-34.5 428.1 L-37.4 419.3 L-40.3 410.3 L-43.2 401.1 L-46.1 391.8 L-49.1 382.3 L-52.0 372.7 L-55.0 362.8 L-58.0 352.8 L-61.1 342.6 L-64.1 332.2 L-67.2 321.6 L-70.3 310.8 L-73.4 299.8 L-76.5 288.5 L-79.7 277.0 L-82.9 265.2 L-86.1 253.2 L-89.3 240.9 L-92.5 228.3 L-95.8 215.4 L-99.1 202.2 L-102.4 188.6 L-105.7 174.8 L-109.1 160.5 L-112.5 145.9 L-115.9 130.8 L-119.3 115.3 L-122.7 99.4 L-126.2 82.9 L-129.7 66.0 L-133.2 48.5 L-136.7 30.4 L-137.6 25.8 M96.9 693.3 L94.7 687.9 L92.4 682.5 L90.2 677.0 L87.8 671.4 L85.5 665.8 L83.2 660.1 L80.8 654.4 L78.5 648.6 L76.1 642.7 L73.6 636.8 L71.2 630.8 L68.8 624.7 L66.3 618.6 L63.8 612.4 L61.3 606.1 L58.8 599.7 L56.2 593.3 L53.6 586.8 L51.1 580.2 L48.5 573.6 L45.8 566.8 L43.2 560.0 L40.5 553.1 L37.8 546.0 L35.1 538.9 L32.4 531.7 L29.7 524.4 L26.9 517.0 L24.2 509.5 L21.4 501.9 L18.5 494.2 L15.7 486.4 L12.8 478.4 L10.0 470.4 L7.1 462.2 L4.1 453.9 L1.2 445.4 L-1.8 436.9 L-4.7 428.1 L-7.8 419.3 L-10.8 410.3 L-13.8 401.1 L-16.9 391.8 L-20.0 382.3 L-23.1 372.7 L-26.2 362.8 L-29.4 352.8 L-32.6 342.6 L-35.8 332.2 L-39.0 321.6 L-42.3 310.8 L-45.5 299.8 L-48.8 288.5 L-52.2 277.0 L-55.5 265.2 L-58.9 253.2 L-62.3 240.9 L-65.7 228.3 L-69.1 215.4 L-72.6 202.2 L-76.1 188.6 L-79.6 174.8 L-83.2 160.5 L-86.8 145.9 L-90.4 130.8 L-94.0 115.3 L-97.7 99.4 L-101.4 82.9 L-105.1 66.0 L-108.8 48.5 L-112.6 30.4 L-113.5 25.8 M129.9 693.3 L127.6 687.9 L125.4 682.5 L123.1 677.0 L120.8 671.4 L118.4 665.8 L116.1 660.1 L113.7 654.4 L111.3 648.6 L108.9 642.7 L106.4 636.8 L104.0 630.8 L101.5 624.7 L98.9 618.6 L96.4 612.4 L93.9 606.1 L91.3 599.7 L88.7 593.3 L86.0 586.8 L83.4 580.2 L80.7 573.6 L78.0 566.8 L75.3 560.0 L72.6 553.1 L69.8 546.0 L67.0 538.9 L64.2 531.7 L61.4 524.4 L58.5 517.0 L55.7 509.5 L52.8 501.9 L49.8 494.2 L46.9 486.4 L43.9 478.4 L40.9 470.4 L37.9 462.2 L34.9 453.9 L31.8 445.4 L28.7 436.9 L25.6 428.1 L22.5 419.3 L19.3 410.3 L16.2 401.1 L13.0 391.8 L9.7 382.3 L6.5 372.7 L3.2 362.8 L-0.1 352.8 L-3.5 342.6 L-6.8 332.2 L-10.2 321.6 L-13.6 310.8 L-17.0 299.8 L-20.5 288.5 L-24.0 277.0 L-27.5 265.2 L-31.1 253.2 L-34.7 240.9 L-38.3 228.3 L-41.9 215.4 L-45.6 202.2 L-49.2 188.6 L-53.0 174.8 L-56.7 160.5 L-60.5 145.9 L-64.3 130.8 L-68.2 115.3 L-72.0 99.4 L-75.9 82.9 L-79.9 66.0 L-83.9 48.5 L-87.8 30.4 L-88.9 25.8 M162.8 693.3 L160.6 687.9 L158.4 682.5 L156.1 677.0 L153.8 671.4 L151.5 665.8 L149.2 660.1 L146.8 654.4 L144.4 648.6 L142.0 642.7 L139.5 636.8 L137.1 630.8 L134.6 624.7 L132.0 618.6 L129.5 612.4 L126.9 606.1 L124.3 599.7 L121.7 593.3 L119.0 586.8 L116.3 580.2 L113.6 573.6 L110.9 566.8 L108.1 560.0 L105.3 553.1 L102.5 546.0 L99.6 538.9 L96.7 531.7 L93.8 524.4 L90.9 517.0 L88.0 509.5 L85.0 501.9 L82.0 494.2 L78.9 486.4 L75.9 478.4 L72.8 470.4 L69.6 462.2 L66.5 453.9 L63.3 445.4 L60.1 436.9 L56.9 428.1 L53.6 419.3 L50.4 410.3 L47.0 401.1 L43.7 391.8 L40.3 382.3 L36.9 372.7 L33.5 362.8 L30.1 352.8 L26.6 342.6 L23.1 332.2 L19.5 321.6 L15.9 310.8 L12.3 299.8 L8.7 288.5 L5.0 277.0 L1.3 265.2 L-2.4 253.2 L-6.1 240.9 L-9.9 228.3 L-13.8 215.4 L-17.6 202.2 L-21.5 188.6 L-25.4 174.8 L-29.4 160.5 L-33.4 145.9 L-37.4 130.8 L-41.5 115.3 L-45.6 99.4 L-49.7 82.9 L-53.9 66.0 L-58.1 48.5 L-62.3 30.4 L-63.4 25.8 M195.7 693.3 L193.6 687.9 L191.4 682.5 L189.2 677.0 L187.0 671.4 L184.8 665.8 L182.5 660.1 L180.2 654.4 L177.8 648.6 L175.5 642.7 L173.1 636.8 L170.6 630.8 L168.2 624.7 L165.7 618.6 L163.1 612.4 L160.6 606.1 L158.0 599.7 L155.4 593.3 L152.7 586.8 L150.0 580.2 L147.3 573.6 L144.5 566.8 L141.8 560.0 L138.9 553.1 L136.1 546.0 L133.2 538.9 L130.3 531.7 L127.3 524.4 L124.3 517.0 L121.3 509.5 L118.3 501.9 L115.2 494.2 L112.1 486.4 L109.0 478.4 L105.8 470.4 L102.6 462.2 L99.3 453.9 L96.1 445.4 L92.8 436.9 L89.4 428.1 L86.0 419.3 L82.6 410.3 L79.2 401.1 L75.7 391.8 L72.2 382.3 L68.7 372.7 L65.1 362.8 L61.5 352.8 L57.9 342.6 L54.2 332.2 L50.5 321.6 L46.8 310.8 L43.0 299.8 L39.2 288.5 L35.4 277.0 L31.5 265.2 L27.6 253.2 L23.7 240.9 L19.7 228.3 L15.7 215.4 L11.6 202.2 L7.5 188.6 L3.4 174.8 L-0.8 160.5 L-5.0 145.9 L-9.3 130.8 L-13.6 115.3 L-17.9 99.4 L-22.3 82.9 L-26.7 66.0 L-31.1 48.5 L-35.6 30.4 L-36.8 25.8 M228.6 693.3 L226.6 687.9 L224.6 682.5 L222.5 677.0 L220.4 671.4 L218.3 665.8 L216.1 660.1 L213.9 654.4 L211.7 648.6 L209.4 642.7 L207.1 636.8 L204.8 630.8 L202.4 624.7 L200.0 618.6 L197.5 612.4 L195.0 606.1 L192.5 599.7 L189.9 593.3 L187.3 586.8 L184.7 580.2 L182.0 573.6 L179.3 566.8 L176.5 560.0 L173.7 553.1 L170.9 546.0 L168.0 538.9 L165.1 531.7 L162.1 524.4 L159.2 517.0 L156.1 509.5 L153.0 501.9 L149.9 494.2 L146.8 486.4 L143.6 478.4 L140.4 470.4 L137.1 462.2 L133.8 453.9 L130.4 445.4 L127.1 436.9 L123.6 428.1 L120.2 419.3 L116.7 410.3 L113.1 401.1 L109.5 391.8 L105.9 382.3 L102.3 372.7 L98.6 362.8 L94.8 352.8 L91.1 342.6 L87.2 332.2 L83.4 321.6 L79.5 310.8 L75.5 299.8 L71.6 288.5 L67.6 277.0 L63.5 265.2 L59.4 253.2 L55.3 240.9 L51.1 228.3 L46.9 215.4 L42.6 202.2 L38.3 188.6 L33.9 174.8 L29.5 160.5 L25.1 145.9 L20.6 130.8 L16.1 115.3 L11.5 99.4 L6.9 82.9 L2.2 66.0 L-2.5 48.5 L-7.3 30.4 L-8.5 25.8 M261.5 693.3 L259.7 687.9 L257.8 682.5 L255.9 677.0 L254.0 671.4 L252.0 665.8 L250.0 660.1 L248.0 654.4 L245.9 648.6 L243.8 642.7 L241.7 636.8 L239.5 630.8 L237.2 624.7 L235.0 618.6 L232.7 612.4 L230.3 606.1 L227.9 599.7 L225.5 593.3 L223.0 586.8 L220.4 580.2 L217.9 573.6 L215.3 566.8 L212.6 560.0 L209.9 553.1 L207.1 546.0 L204.3 538.9 L201.5 531.7 L198.6 524.4 L195.6 517.0 L192.6 509.5 L189.6 501.9 L186.5 494.2 L183.4 486.4 L180.2 478.4 L177.0 470.4 L173.7 462.2 L170.4 453.9 L167.0 445.4 L163.6 436.9 L160.1 428.1 L156.6 419.3 L153.0 410.3 L149.4 401.1 L145.7 391.8 L142.0 382.3 L138.2 372.7 L134.4 362.8 L130.6 352.8 L126.7 342.6 L122.7 332.2 L118.7 321.6 L114.7 310.8 L110.6 299.8 L106.4 288.5 L102.2 277.0 L98.0 265.2 L93.7 253.2 L89.4 240.9 L85.0 228.3 L80.6 215.4 L76.1 202.2 L71.6 188.6 L67.0 174.8 L62.3 160.5 L57.7 145.9 L52.9 130.8 L48.1 115.3 L43.3 99.4 L38.4 82.9 L33.4 66.0 L28.4 48.5 L23.4 30.4 L22.1 25.8 M294.4 693.3 L292.8 687.9 L291.1 682.5 L289.4 677.0 L287.7 671.4 L286.0 665.8 L284.2 660.1 L282.4 654.4 L280.5 648.6 L278.7 642.7 L276.7 636.8 L274.7 630.8 L272.7 624.7 L270.7 618.6 L268.6 612.4 L266.4 606.1 L264.2 599.7 L262.0 593.3 L259.7 586.8 L257.4 580.2 L255.0 573.6 L252.5 566.8 L250.0 560.0 L247.5 553.1 L244.9 546.0 L242.3 538.9 L239.6 531.7 L236.8 524.4 L234.0 517.0 L231.1 509.5 L228.2 501.9 L225.2 494.2 L222.2 486.4 L219.1 478.4 L215.9 470.4 L212.7 462.2 L209.5 453.9 L206.1 445.4 L202.7 436.9 L199.3 428.1 L195.8 419.3 L192.2 410.3 L188.6 401.1 L184.9 391.8 L181.1 382.3 L177.3 372.7 L173.4 362.8 L169.5 352.8 L165.5 342.6 L161.5 332.2 L157.3 321.6 L153.2 310.8 L148.9 299.8 L144.7 288.5 L140.3 277.0 L135.9 265.2 L131.4 253.2 L126.9 240.9 L122.3 228.3 L117.7 215.4 L113.0 202.2 L108.2 188.6 L103.4 174.8 L98.5 160.5 L93.6 145.9 L88.6 130.8 L83.5 115.3 L78.4 99.4 L73.2 82.9 L68.0 66.0 L62.6 48.5 L57.3 30.4 L55.9 25.8 M327.2 693.3 L325.9 687.9 L324.5 682.5 L323.1 677.0 L321.6 671.4 L320.1 665.8 L318.6 660.1 L317.1 654.4 L315.5 648.6 L313.8 642.7 L312.2 636.8 L310.5 630.8 L308.7 624.7 L306.9 618.6 L305.1 612.4 L303.2 606.1 L301.3 599.7 L299.3 593.3 L297.3 586.8 L295.3 580.2 L293.1 573.6 L291.0 566.8 L288.8 560.0 L286.5 553.1 L284.2 546.0 L281.8 538.9 L279.3 531.7 L276.8 524.4 L274.3 517.0 L271.6 509.5 L268.9 501.9 L266.2 494.2 L263.3 486.4 L260.5 478.4 L257.5 470.4 L254.5 462.2 L251.4 453.9 L248.2 445.4 L244.9 436.9 L241.6 428.1 L238.2 419.3 L234.8 410.3 L231.2 401.1 L227.6 391.8 L223.9 382.3 L220.1 372.7 L216.3 362.8 L212.4 352.8 L208.4 342.6 L204.3 332.2 L200.1 321.6 L195.9 310.8 L191.6 299.8 L187.2 288.5 L182.8 277.0 L178.2 265.2 L173.6 253.2 L168.9 240.9 L164.2 228.3 L159.4 215.4 L154.4 202.2 L149.5 188.6 L144.4 174.8 L139.3 160.5 L134.1 145.9 L128.8 130.8 L123.4 115.3 L118.0 99.4 L112.5 82.9 L106.9 66.0 L101.3 48.5 L95.5 30.4 L94.1 25.8 M360.1 693.3 L359.0 687.9 L357.9 682.5 L356.7 677.0 L355.5 671.4 L354.3 665.8 L353.1 660.1 L351.8 654.4 L350.5 648.6 L349.2 642.7 L347.8 636.8 L346.4 630.8 L345.0 624.7 L343.5 618.6 L342.0 612.4 L340.5 606.1 L338.9 599.7 L337.3 593.3 L335.6 586.8 L333.9 580.2 L332.1 573.6 L330.3 566.8 L328.4 560.0 L326.5 553.1 L324.5 546.0 L322.5 538.9 L320.4 531.7 L318.2 524.4 L316.0 517.0 L313.8 509.5 L311.4 501.9 L309.0 494.2 L306.5 486.4 L304.0 478.4 L301.4 470.4 L298.7 462.2 L295.9 453.9 L293.0 445.4 L290.1 436.9 L287.1 428.1 L284.0 419.3 L280.8 410.3 L277.5 401.1 L274.1 391.8 L270.6 382.3 L267.1 372.7 L263.4 362.8 L259.7 352.8 L255.8 342.6 L251.9 332.2 L247.8 321.6 L243.7 310.8 L239.4 299.8 L235.0 288.5 L230.6 277.0 L226.0 265.2 L221.4 253.2 L216.6 240.9 L211.8 228.3 L206.8 215.4 L201.8 202.2 L196.6 188.6 L191.4 174.8 L186.0 160.5 L180.6 145.9 L175.0 130.8 L169.4 115.3 L163.7 99.4 L157.8 82.9 L151.9 66.0 L145.9 48.5 L139.8 30.4 L138.2 25.8 M393.0 693.3 L392.1 687.9 L391.3 682.5 L390.4 677.0 L389.5 671.4 L388.6 665.8 L387.6 660.1 L386.6 654.4 L385.6 648.6 L384.6 642.7 L383.6 636.8 L382.5 630.8 L381.4 624.7 L380.2 618.6 L379.1 612.4 L377.9 606.1 L376.6 599.7 L375.4 593.3 L374.1 586.8 L372.7 580.2 L371.3 573.6 L369.9 566.8 L368.4 560.0 L366.9 553.1 L365.4 546.0 L363.8 538.9 L362.1 531.7 L360.4 524.4 L358.6 517.0 L356.8 509.5 L354.9 501.9 L353.0 494.2 L350.9 486.4 L348.9 478.4 L346.7 470.4 L344.5 462.2 L342.2 453.9 L339.8 445.4 L337.4 436.9 L334.8 428.1 L332.2 419.3 L329.5 410.3 L326.7 401.1 L323.7 391.8 L320.7 382.3 L317.6 372.7 L314.4 362.8 L311.0 352.8 L307.6 342.6 L304.0 332.2 L300.3 321.6 L296.5 310.8 L292.5 299.8 L288.4 288.5 L284.2 277.0 L279.9 265.2 L275.4 253.2 L270.8 240.9 L266.1 228.3 L261.2 215.4 L256.2 202.2 L251.0 188.6 L245.7 174.8 L240.3 160.5 L234.7 145.9 L229.0 130.8 L223.2 115.3 L217.2 99.4 L211.1 82.9 L204.8 66.0 L198.5 48.5 L192.0 30.4 L190.3 25.8 M425.8 693.3 L425.2 687.9 L424.6 682.5 L424.0 677.0 L423.4 671.4 L422.7 665.8 L422.0 660.1 L421.3 654.4 L420.6 648.6 L419.9 642.7 L419.1 636.8 L418.4 630.8 L417.6 624.7 L416.8 618.6 L415.9 612.4 L415.1 606.1 L414.2 599.7 L413.3 593.3 L412.3 586.8 L411.4 580.2 L410.4 573.6 L409.3 566.8 L408.3 560.0 L407.2 553.1 L406.1 546.0 L404.9 538.9 L403.7 531.7 L402.4 524.4 L401.1 517.0 L399.8 509.5 L398.4 501.9 L397.0 494.2 L395.5 486.4 L394.0 478.4 L392.4 470.4 L390.7 462.2 L389.0 453.9 L387.2 445.4 L385.4 436.9 L383.4 428.1 L381.4 419.3 L379.3 410.3 L377.2 401.1 L374.9 391.8 L372.5 382.3 L370.1 372.7 L367.5 362.8 L364.9 352.8 L362.1 342.6 L359.2 332.2 L356.2 321.6 L353.0 310.8 L349.7 299.8 L346.3 288.5 L342.7 277.0 L338.9 265.2 L335.0 253.2 L330.9 240.9 L326.7 228.3 L322.3 215.4 L317.7 202.2 L312.9 188.6 L307.9 174.8 L302.7 160.5 L297.4 145.9 L291.8 130.8 L286.0 115.3 L280.1 99.4 L273.9 82.9 L267.6 66.0 L261.0 48.5 L254.3 30.4 L252.5 25.8 M458.7 693.3 L458.3 687.9 L457.9 682.5 L457.5 677.0 L457.1 671.4 L456.7 665.8 L456.3 660.1 L455.8 654.4 L455.4 648.6 L454.9 642.7 L454.4 636.8 L454.0 630.8 L453.4 624.7 L452.9 618.6 L452.4 612.4 L451.8 606.1 L451.3 599.7 L450.7 593.3 L450.1 586.8 L449.5 580.2 L448.8 573.6 L448.2 566.8 L447.5 560.0 L446.8 553.1 L446.0 546.0 L445.3 538.9 L444.5 531.7 L443.7 524.4 L442.9 517.0 L442.0 509.5 L441.1 501.9 L440.2 494.2 L439.2 486.4 L438.2 478.4 L437.1 470.4 L436.0 462.2 L434.9 453.9 L433.7 445.4 L432.5 436.9 L431.2 428.1 L429.9 419.3 L428.5 410.3 L427.0 401.1 L425.5 391.8 L423.9 382.3 L422.2 372.7 L420.4 362.8 L418.6 352.8 L416.6 342.6 L414.6 332.2 L412.5 321.6 L410.2 310.8 L407.9 299.8 L405.4 288.5 L402.8 277.0 L400.0 265.2 L397.1 253.2 L394.0 240.9 L390.7 228.3 L387.3 215.4 L383.7 202.2 L379.9 188.6 L375.8 174.8 L371.5 160.5 L367.0 145.9 L362.3 130.8 L357.2 115.3 L351.9 99.4 L346.4 82.9 L340.5 66.0 L334.3 48.5 L327.9 30.4 L326.2 25.8 M491.6 693.3 L491.4 687.9 L491.2 682.5 L491.0 677.0 L490.8 671.4 L490.6 665.8 L490.4 660.1 L490.1 654.4 L489.9 648.6 L489.7 642.7 L489.4 636.8 L489.2 630.8 L488.9 624.7 L488.6 618.6 L488.4 612.4 L488.1 606.1 L487.8 599.7 L487.5 593.3 L487.2 586.8 L486.8 580.2 L486.5 573.6 L486.1 566.8 L485.8 560.0 L485.4 553.1 L485.0 546.0 L484.6 538.9 L484.2 531.7 L483.8 524.4 L483.3 517.0 L482.9 509.5 L482.4 501.9 L481.9 494.2 L481.4 486.4 L480.8 478.4 L480.2 470.4 L479.6 462.2 L479.0 453.9 L478.4 445.4 L477.7 436.9 L477.0 428.1 L476.2 419.3 L475.5 410.3 L474.6 401.1 L473.8 391.8 L472.9 382.3 L471.9 372.7 L470.9 362.8 L469.9 352.8 L468.8 342.6 L467.6 332.2 L466.3 321.6 L465.0 310.8 L463.6 299.8 L462.2 288.5 L460.6 277.0 L458.9 265.2 L457.2 253.2 L455.3 240.9 L453.3 228.3 L451.1 215.4 L448.9 202.2 L446.4 188.6 L443.8 174.8 L441.0 160.5 L437.9 145.9 L434.7 130.8 L431.2 115.3 L427.5 99.4 L423.4 82.9 L419.1 66.0 L414.4 48.5 L409.3 30.4 L408.0 25.8 M524.5 693.3 L524.4 687.9 L524.4 682.5 L524.3 677.0 L524.3 671.4 L524.2 665.8 L524.1 660.1 L524.1 654.4 L524.0 648.6 L523.9 642.7 L523.8 636.8 L523.8 630.8 L523.7 624.7 L523.6 618.6 L523.5 612.4 L523.4 606.1 L523.3 599.7 L523.2 593.3 L523.1 586.8 L523.0 580.2 L522.9 573.6 L522.8 566.8 L522.6 560.0 L522.5 553.1 L522.4 546.0 L522.2 538.9 L522.1 531.7 L521.9 524.4 L521.8 517.0 L521.6 509.5 L521.4 501.9 L521.2 494.2 L521.0 486.4 L520.8 478.4 L520.6 470.4 L520.4 462.2 L520.1 453.9 L519.9 445.4 L519.6 436.9 L519.3 428.1 L519.0 419.3 L518.7 410.3 L518.3 401.1 L518.0 391.8 L517.6 382.3 L517.2 372.7 L516.7 362.8 L516.3 352.8 L515.8 342.6 L515.3 332.2 L514.7 321.6 L514.1 310.8 L513.4 299.8 L512.8 288.5 L512.0 277.0 L511.2 265.2 L510.4 253.2 L509.5 240.9 L508.5 228.3 L507.4 215.4 L506.3 202.2 L505.1 188.6 L503.7 174.8 L502.3 160.5 L500.7 145.9 L499.0 130.8 L497.1 115.3 L495.0 99.4 L492.8 82.9 L490.3 66.0 L487.6 48.5 L484.7 30.4 L483.9 25.8 M557.4 693.3 L557.4 687.9 L557.5 682.5 L557.6 677.0 L557.6 671.4 L557.7 665.8 L557.7 660.1 L557.8 654.4 L557.9 648.6 L557.9 642.7 L558.0 636.8 L558.0 630.8 L558.1 624.7 L558.2 618.6 L558.2 612.4 L558.3 606.1 L558.4 599.7 L558.4 593.3 L558.5 586.8 L558.6 580.2 L558.6 573.6 L558.7 566.8 L558.8 560.0 L558.8 553.1 L558.9 546.0 L558.9 538.9 L559.0 531.7 L559.1 524.4 L559.1 517.0 L559.2 509.5 L559.3 501.9 L559.3 494.2 L559.4 486.4 L559.4 478.4 L559.5 470.4 L559.5 462.2 L559.6 453.9 L559.6 445.4 L559.7 436.9 L559.7 428.1 L559.7 419.3 L559.8 410.3 L559.8 401.1 L559.8 391.8 L559.8 382.3 L559.8 372.7 L559.8 362.8 L559.8 352.8 L559.8 342.6 L559.7 332.2 L559.7 321.6 L559.6 310.8 L559.5 299.8 L559.5 288.5 L559.3 277.0 L559.2 265.2 L559.1 253.2 L558.9 240.9 L558.7 228.3 L558.5 215.4 L558.2 202.2 L557.9 188.6 L557.5 174.8 L557.1 160.5 L556.7 145.9 L556.2 130.8 L555.6 115.3 L554.9 99.4 L554.2 82.9 L553.4 66.0 L552.4 48.5 L551.3 30.4 L551.0 25.8" stroke="#00dc00" stroke-width="1.0" stroke-dasharray="5.5 1.9"/>
<path d="M279.2 421.1 L277.1 429.9 L275.0 438.6 L272.9 447.1 L270.8 455.6 L268.8 463.8 L266.8 472.0 L264.9 480.0 L263.0 488.0 L261.1 495.8 L259.2 503.5 L257.4 511.1 L255.6 518.5 L253.8 525.9 L252.1 533.2 L250.3 540.4 L248.6 547.5 L247.0 554.4 L245.3 561.4 L243.7 568.2 L242.1 574.9 L240.5 581.5 L238.9 588.1 L237.3 594.6 L235.8 601.0 L234.3 607.4 L232.8 613.6 L231.3 619.8 L229.9 625.9 L228.4 632.0 L227.0 638.0 L225.6 643.9 L224.2 649.7 L222.8 655.5 L221.5 661.2 L220.1 666.9 L218.8 672.5 L217.5 678.1 L216.2 683.6 L214.9 689.0 M332.7 421.1 L330.7 429.9 L328.7 438.6 L326.7 447.1 L324.7 455.6 L322.8 463.8 L320.9 472.0 L319.0 480.0 L317.2 488.0 L315.4 495.8 L313.6 503.5 L311.9 511.1 L310.1 518.5 L308.4 525.9 L306.8 533.2 L305.1 540.4 L303.5 547.5 L301.9 554.4 L300.3 561.4 L298.7 568.2 L297.2 574.9 L295.7 581.5 L294.2 588.1 L292.7 594.6 L291.2 601.0 L289.8 607.4 L288.4 613.6 L287.0 619.8 L285.6 625.9 L284.2 632.0 L282.8 638.0 L281.5 643.9 L280.2 649.7 L278.9 655.5 L277.6 661.2 L276.3 666.9 L275.0 672.5 L273.8 678.1 L272.5 683.6 L271.3 689.0 M365.9 421.1 L363.9 429.9 L361.9 438.6 L360.0 447.1 L358.1 455.6 L356.2 463.8 L354.4 472.0 L352.6 480.0 L350.8 488.0 L349.1 495.8 L347.3 503.5 L345.6 511.1 L344.0 518.5 L342.3 525.9 L340.7 533.2 L339.1 540.4 L337.5 547.5 L336.0 554.4 L334.4 561.4 L332.9 568.2 L331.4 574.9 L329.9 581.5 L328.5 588.1 L327.1 594.6 L325.6 601.0 L324.2 607.4 L322.9 613.6 L321.5 619.8 L320.1 625.9 L318.8 632.0 L317.5 638.0 L316.2 643.9 L314.9 649.7 L313.6 655.5 L312.4 661.2 L311.2 666.9 L309.9 672.5 L308.7 678.1 L307.5 683.6 L306.3 689.0 M390.3 421.1 L388.4 429.9 L386.5 438.6 L384.6 447.1 L382.7 455.6 L380.9 463.8 L379.1 472.0 L377.3 480.0 L375.6 488.0 L373.9 495.8 L372.2 503.5 L370.5 511.1 L368.9 518.5 L367.3 525.9 L365.7 533.2 L364.1 540.4 L362.6 547.5 L361.1 554.4 L359.6 561.4 L358.1 568.2 L356.6 574.9 L355.2 581.5 L353.8 588.1 L352.4 594.6 L351.0 601.0 L349.6 607.4 L348.3 613.6 L346.9 619.8 L345.6 625.9 L344.3 632.0 L343.0 638.0 L341.8 643.9 L340.5 649.7 L339.3 655.5 L338.1 661.2 L336.9 666.9 L335.7 672.5 L334.5 678.1 L333.3 683.6 L332.2 689.0 M426.1 421.1 L424.2 429.9 L422.4 438.6 L420.5 447.1 L418.8 455.6 L417.0 463.8 L415.3 472.0 L413.5 480.0 L411.9 488.0 L410.2 495.8 L408.6 503.5 L407.0 511.1 L405.4 518.5 L403.9 525.9 L402.3 533.2 L400.8 540.4 L399.3 547.5 L397.9 554.4 L396.4 561.4 L395.0 568.2 L393.6 574.9 L392.2 581.5 L390.8 588.1 L389.5 594.6 L388.1 601.0 L386.8 607.4 L385.5 613.6 L384.3 619.8 L383.0 625.9 L381.7 632.0 L380.5 638.0 L379.3 643.9 L378.1 649.7 L376.9 655.5 L375.7 661.2 L374.5 666.9 L373.4 672.5 L372.2 678.1 L371.1 683.6 L370.0 689.0 M452.5 421.1 L450.7 429.9 L448.9 438.6 L447.1 447.1 L445.3 455.6 L443.6 463.8 L441.9 472.0 L440.3 480.0 L438.6 488.0 L437.0 495.8 L435.5 503.5 L433.9 511.1 L432.4 518.5 L430.8 525.9 L429.4 533.2 L427.9 540.4 L426.4 547.5 L425.0 554.4 L423.6 561.4 L422.2 568.2 L420.9 574.9 L419.5 581.5 L418.2 588.1 L416.9 594.6 L415.6 601.0 L414.3 607.4 L413.0 613.6 L411.8 619.8 L410.6 625.9 L409.4 632.0 L408.2 638.0 L407.0 643.9 L405.8 649.7 L404.6 655.5 L403.5 661.2 L402.4 666.9 L401.2 672.5 L400.1 678.1 L399.1 683.6 L398.0 689.0 M473.6 421.1 L471.8 429.9 L470.0 438.6 L468.3 447.1 L466.6 455.6 L464.9 463.8 L463.3 472.0 L461.6 480.0 L460.0 488.0 L458.5 495.8 L456.9 503.5 L455.4 511.1 L453.9 518.5 L452.4 525.9 L451.0 533.2 L449.5 540.4 L448.1 547.5 L446.7 554.4 L445.4 561.4 L444.0 568.2 L442.7 574.9 L441.3 581.5 L440.0 588.1 L438.8 594.6 L437.5 601.0 L436.3 607.4 L435.0 613.6 L433.8 619.8 L432.6 625.9 L431.4 632.0 L430.3 638.0 L429.1 643.9 L428.0 649.7 L426.8 655.5 L425.7 661.2 L424.6 666.9 L423.5 672.5 L422.4 678.1 L421.4 683.6 L420.3 689.0 M513.4 421.1 L511.6 429.9 L509.9 438.6 L508.3 447.1 L506.6 455.6 L505.0 463.8 L503.5 472.0 L501.9 480.0 L500.4 488.0 L498.9 495.8 L497.4 503.5 L495.9 511.1 L494.5 518.5 L493.1 525.9 L491.7 533.2 L490.3 540.4 L489.0 547.5 L487.7 554.4 L486.3 561.4 L485.1 568.2 L483.8 574.9 L482.5 581.5 L481.3 588.1 L480.1 594.6 L478.9 601.0 L477.7 607.4 L476.5 613.6 L475.3 619.8 L474.2 625.9 L473.1 632.0 L472.0 638.0 L470.9 643.9 L469.8 649.7 L468.7 655.5 L467.6 661.2 L466.6 666.9 L465.5 672.5 L464.5 678.1 L463.5 683.6 L462.5 689.0 M542.7 421.1 L541.1 429.9 L539.4 438.6 L537.8 447.1 L536.2 455.6 L534.7 463.8 L533.2 472.0 L531.7 480.0 L530.2 488.0 L528.7 495.8 L527.3 503.5 L525.9 511.1 L524.5 518.5 L523.2 525.9 L521.8 533.2 L520.5 540.4 L519.2 547.5 L517.9 554.4 L516.7 561.4 L515.4 568.2 L514.2 574.9 L513.0 581.5 L511.8 588.1 L510.6 594.6 L509.5 601.0 L508.3 607.4 L507.2 613.6 L506.1 619.8 L505.0 625.9 L503.9 632.0 L502.8 638.0 L501.8 643.9 L500.7 649.7 L499.7 655.5 L498.7 661.2 L497.6 666.9 L496.6 672.5 L495.7 678.1 L494.7 683.6 L493.7 689.0 M566.2 421.1 L564.6 429.9 L563.0 438.6 L561.5 447.1 L559.9 455.6 L558.4 463.8 L557.0 472.0 L555.5 480.0 L554.1 488.0 L552.7 495.8 L551.3 503.5 L549.9 511.1 L548.6 518.5 L547.2 525.9 L545.9 533.2 L544.7 540.4 L543.4 547.5 L542.2 554.4 L540.9 561.4 L539.7 568.2 L538.5 574.9 L537.4 581.5 L536.2 588.1 L535.1 594.6 L534.0 601.0 L532.8 607.4 L531.8 613.6 L530.7 619.8 L529.6 625.9 L528.6 632.0 L527.5 638.0 L526.5 643.9 L525.5 649.7 L524.5 655.5 L523.5 661.2 L522.5 666.9 L521.6 672.5 L520.6 678.1 L519.7 683.6 L518.7 689.0 M585.9 421.1 L584.4 429.9 L582.8 438.6 L581.3 447.1 L579.8 455.6 L578.3 463.8 L576.9 472.0 L575.5 480.0 L574.1 488.0 L572.7 495.8 L571.3 503.5 L570.0 511.1 L568.7 518.5 L567.4 525.9 L566.2 533.2 L564.9 540.4 L563.7 547.5 L562.5 554.4 L561.3 561.4 L560.1 568.2 L559.0 574.9 L557.8 581.5 L556.7 588.1 L555.6 594.6 L554.5 601.0 L553.4 607.4 L552.3 613.6 L551.3 619.8 L550.3 625.9 L549.2 632.0 L548.2 638.0 L547.2 643.9 L546.2 649.7 L545.3 655.5 L544.3 661.2 L543.4 666.9 L542.4 672.5 L541.5 678.1 L540.6 683.6 L539.7 689.0 M602.9 421.1 L601.4 429.9 L599.9 438.6 L598.4 447.1 L596.9 455.6 L595.5 463.8 L594.1 472.0 L592.7 480.0 L591.3 488.0 L590.0 495.8 L588.7 503.5 L587.4 511.1 L586.1 518.5 L584.8 525.9 L583.6 533.2 L582.4 540.4 L581.2 547.5 L580.0 554.4 L578.8 561.4 L577.7 568.2 L576.6 574.9 L575.5 581.5 L574.4 588.1 L573.3 594.6 L572.2 601.0 L571.2 607.4 L570.1 613.6 L569.1 619.8 L568.1 625.9 L567.1 632.0 L566.1 638.0 L565.1 643.9 L564.2 649.7 L563.2 655.5 L562.3 661.2 L561.4 666.9 L560.5 672.5 L559.6 678.1 L558.7 683.6 L557.8 689.0 M617.9 421.1 L616.4 429.9 L614.9 438.6 L613.5 447.1 L612.0 455.6 L610.6 463.8 L609.2 472.0 L607.9 480.0 L606.6 488.0 L605.2 495.8 L604.0 503.5 L602.7 511.1 L601.4 518.5 L600.2 525.9 L599.0 533.2 L597.8 540.4 L596.6 547.5 L595.5 554.4 L594.3 561.4 L593.2 568.2 L592.1 574.9 L591.0 581.5 L590.0 588.1 L588.9 594.6 L587.9 601.0 L586.8 607.4 L585.8 613.6 L584.8 619.8 L583.8 625.9 L582.9 632.0 L581.9 638.0 L580.9 643.9 L580.0 649.7 L579.1 655.5 L578.2 661.2 L577.3 666.9 L576.4 672.5 L575.5 678.1 L574.6 683.6 L573.8 689.0" stroke="#f00082" stroke-width="1.25" stroke-dasharray="2 6"/>
<path d="M63.0 127.5 H590.0 M63.0 198.5 H590.0 M63.0 262.5 H590.0 M63.0 319.5 H590.0 M63.0 370.5 H590.0 M63.0 417.5 H590.0 M63.0 460.5 H590.0 M63.0 500.5 H590.0 M63.0 537.5 H590.0 M63.0 571.5 H590.0 M63.0 604.5 H590.0 M63.0 635.5 H590.0 M63.0 664.5 H590.0" stroke="#000" stroke-width="1"/>
</g>
<g font-size="12.5" fill="#f00082" text-anchor="middle">
<g transform="translate(283.00,412.10) scale(0.4350,0.3667)" stroke="#f00082" stroke-width="1.0" shape-rendering="crispEdges"><use href="#h49" x="-8.5"/></g>
<g transform="translate(337.50,412.10) scale(0.4350,0.3667)" stroke="#f00082" stroke-width="1.0" shape-rendering="crispEdges"><use href="#h50" x="-10"/></g>
<g transform="translate(370.50,412.10) scale(0.4350,0.3667)" stroke="#f00082" stroke-width="1.0" shape-rendering="crispEdges"><use href="#h51" x="-10"/></g>
<g transform="translate(395.70,412.10) scale(0.4350,0.3667)" stroke="#f00082" stroke-width="1.0" shape-rendering="crispEdges"><use href="#h52" x="-10.5"/></g>
<g transform="translate(430.70,412.10) scale(0.4350,0.3667)" stroke="#f00082" stroke-width="1.0" shape-rendering="crispEdges"><use href="#h54" x="-10.5"/></g>
<g transform="translate(457.20,412.10) scale(0.4350,0.3667)" stroke="#f00082" stroke-width="1.0" shape-rendering="crispEdges"><use href="#h56" x="-10"/></g>
<g transform="translate(483.40,412.10) scale(0.4350,0.3667)" stroke="#f00082" stroke-width="1.0" shape-rendering="crispEdges"><use href="#h49" x="-21.5"/><use href="#h48" x="-1.5"/></g>
<g transform="translate(523.50,412.10) scale(0.4350,0.3667)" stroke="#f00082" stroke-width="1.0" shape-rendering="crispEdges"><use href="#h49" x="-21.5"/><use href="#h53" x="-1.5"/></g>
<g transform="translate(552.40,412.10) scale(0.4350,0.3667)" stroke="#f00082" stroke-width="1.0" shape-rendering="crispEdges"><use href="#h50" x="-20"/><use href="#h48" x="0"/></g>
<g transform="translate(576.20,412.10) scale(0.4350,0.3667)" stroke="#f00082" stroke-width="1.0" shape-rendering="crispEdges"><use href="#h50" x="-20"/><use href="#h53" x="0"/></g>
</g>
<g clip-path="url(#cc)" fill="none" stroke-linejoin="round" stroke-linecap="round" shape-rendering="crispEdges">
<path d="M260.3 44.4 L283.2 127.3 L305.6 198.3 L314.3 262.4 L323.4 318.4 L331.9 370.5 L334.9 417.0 L331.2 460.0 L334.2 478.6 L336.6 499.9 L347.0 537.6 L355.1 571.0 L360.7 604.5 L366.2 635.0 L369.8 651.5 L375.8 664.2 L381.0 677.0 L382.5 689.4" stroke="#fa3c3c" stroke-width="2.2"/>
<path d="M260.3 44.4 L283.2 127.3 L305.6 198.3 L313.6 262.4 L322.7 318.4 L131.1 417.0 L232.0 460.0 L276.2 499.9 L271.3 537.6 L273.6 571.0 L300.0 591.5 L318.8 604.2 L348.8 635.0 L359.2 647.8 L363.8 656.0 L366.0 664.2 L368.2 677.0 L369.8 689.4" stroke="#1e3cff" stroke-width="2.2"/>
<path d="M175.1 60.1 L188.9 94.6 L199.8 127.3 L212.0 160.0 L223.8 190.0 L227.5 198.3 L252.3 262.4 L272.9 318.4 L291.0 370.5 L305.7 417.0 L321.4 460.0 L334.0 499.9 L344.6 537.6 L352.8 571.0 L359.8 604.7 L365.2 635.0 L369.3 651.5 L371.2 664.2 L373.5 674.8 L377.2 680.8" stroke="#aaaaaa" stroke-width="2.2"/>
</g>
<rect x="386" y="44" width="204" height="99" fill="#fff"/>
<path d="M587.5 127.5 H590" stroke="#000" stroke-width="1" shape-rendering="crispEdges"/>
<path d="M386.5 44 V138.5 H590" fill="none" stroke="#000" stroke-width="1" shape-rendering="crispEdges"/>
<line x1="390" y1="53.0" x2="410" y2="53.0" stroke="#fa3c3c" stroke-width="2" shape-rendering="crispEdges"/>
<g transform="translate(417.80,57.90) scale(0.5500,0.4381)" stroke="#000" stroke-width="1.0" shape-rendering="crispEdges"><use href="#h84" x="0"/><use href="#h101" x="16"/><use href="#h109" x="34"/><use href="#h112" x="64"/><use href="#h101" x="83"/><use href="#h114" x="101"/><use href="#h97" x="114"/><use href="#h116" x="133"/><use href="#h117" x="145"/><use href="#h114" x="164"/><use href="#h101" x="177"/></g>
<line x1="390" y1="66.0" x2="410" y2="66.0" stroke="#1e3cff" stroke-width="2" shape-rendering="crispEdges"/>
<g transform="translate(417.80,70.98) scale(0.5500,0.4381)" stroke="#000" stroke-width="1.0" shape-rendering="crispEdges"><use href="#h68" x="0"/><use href="#h101" x="21"/><use href="#h119" x="39"/><use href="#h112" x="61"/><use href="#h111" x="80"/><use href="#h105" x="99"/><use href="#h110" x="107"/><use href="#h116" x="126"/></g>
<line x1="390" y1="79.0" x2="410" y2="79.0" stroke="#aaaaaa" stroke-width="2" shape-rendering="crispEdges"/>
<g transform="translate(417.80,84.06) scale(0.5500,0.4381)" stroke="#000" stroke-width="1.0" shape-rendering="crispEdges"><use href="#h80" x="0"/><use href="#h97" x="21"/><use href="#h114" x="40"/><use href="#h99" x="53"/><use href="#h101" x="71"/><use href="#h108" x="89"/><use href="#h84" x="113"/><use href="#h114" x="129"/><use href="#h97" x="142"/><use href="#h106" x="161"/><use href="#h101" x="171"/><use href="#h99" x="189"/><use href="#h116" x="207"/><use href="#h111" x="219"/><use href="#h114" x="238"/><use href="#h121" x="251"/></g>
<line x1="390" y1="92.5" x2="410" y2="92.5" stroke="#f08228" stroke-width="1" shape-rendering="crispEdges"/>
<g transform="translate(417.80,97.14) scale(0.5500,0.4381)" stroke="#000" stroke-width="1.0" shape-rendering="crispEdges"><use href="#h68" x="0"/><use href="#h114" x="21"/><use href="#h121" x="34"/><use href="#h65" x="66"/><use href="#h100" x="84"/><use href="#h105" x="103"/><use href="#h97" x="111"/><use href="#h98" x="130"/><use href="#h97" x="149"/><use href="#h116" x="168"/></g>
<line x1="390" y1="105.5" x2="410" y2="105.5" stroke="#00dc00" stroke-width="1" shape-rendering="crispEdges"/>
<g transform="translate(417.80,110.22) scale(0.5500,0.4381)" stroke="#000" stroke-width="1.0" shape-rendering="crispEdges"><use href="#h87" x="0"/><use href="#h101" x="24"/><use href="#h116" x="42"/><use href="#h65" x="70"/><use href="#h100" x="88"/><use href="#h105" x="107"/><use href="#h97" x="115"/><use href="#h98" x="134"/><use href="#h97" x="153"/><use href="#h116" x="172"/></g>
<line x1="390" y1="118.5" x2="410" y2="118.5" stroke="#00a0ff" stroke-width="1" shape-rendering="crispEdges"/>
<g transform="translate(417.80,123.30) scale(0.5500,0.4381)" stroke="#000" stroke-width="1.0" shape-rendering="crispEdges"><use href="#h73" x="0"/><use href="#h115" x="8"/><use href="#h111" x="25"/><use href="#h116" x="44"/><use href="#h104" x="56"/><use href="#h101" x="75"/><use href="#h114" x="93"/><use href="#h109" x="106"/></g>
<line x1="390" y1="131.5" x2="410" y2="131.5" stroke="#f00082" stroke-width="1" shape-rendering="crispEdges" stroke-dasharray="2 7"/>
<g transform="translate(417.80,136.38) scale(0.5500,0.4381)" stroke="#000" stroke-width="1.0" shape-rendering="crispEdges"><use href="#h77" x="0"/><use href="#h105" x="24"/><use href="#h120" x="32"/><use href="#h105" x="49"/><use href="#h110" x="57"/><use href="#h103" x="76"/><use href="#h82" x="111"/><use href="#h97" x="132"/><use href="#h116" x="151"/><use href="#h105" x="163"/><use href="#h111" x="171"/></g>
<rect x="63.0" y="44.0" width="527.0" height="646.0" fill="none" stroke="#000" stroke-width="2" shape-rendering="crispEdges"/>
<path d="M59 44.5 H63 M59 127.5 H63 M59 198.5 H63 M59 262.5 H63 M59 319.5 H63 M59 370.5 H63 M59 417.5 H63 M59 460.5 H63 M59 500.5 H63 M59 537.5 H63 M59 571.5 H63 M59 604.5 H63 M59 635.5 H63 M59 664.5 H63" stroke="#000" stroke-width="1" shape-rendering="crispEdges"/>
<g font-size="15" fill="#000">
<g transform="translate(28.45,49.20) scale(0.4685,0.4905)" stroke="#000" stroke-width="1.0" shape-rendering="crispEdges"><use href="#h51" x="-3"/><use href="#h48" x="17"/><use href="#h48" x="37"/></g>
<g transform="translate(28.45,132.16) scale(0.4685,0.4905)" stroke="#000" stroke-width="1.0" shape-rendering="crispEdges"><use href="#h51" x="-3"/><use href="#h53" x="17"/><use href="#h48" x="37"/></g>
<g transform="translate(28.45,204.03) scale(0.4685,0.4905)" stroke="#000" stroke-width="1.0" shape-rendering="crispEdges"><use href="#h52" x="-3"/><use href="#h48" x="17"/><use href="#h48" x="37"/></g>
<g transform="translate(28.45,267.42) scale(0.4685,0.4905)" stroke="#000" stroke-width="1.0" shape-rendering="crispEdges"><use href="#h52" x="-3"/><use href="#h53" x="17"/><use href="#h48" x="37"/></g>
<g transform="translate(28.45,324.13) scale(0.4685,0.4905)" stroke="#000" stroke-width="1.0" shape-rendering="crispEdges"><use href="#h53" x="-3"/><use href="#h48" x="17"/><use href="#h48" x="37"/></g>
<g transform="translate(28.45,375.42) scale(0.4685,0.4905)" stroke="#000" stroke-width="1.0" shape-rendering="crispEdges"><use href="#h53" x="-3"/><use href="#h53" x="17"/><use href="#h48" x="37"/></g>
<g transform="translate(28.45,422.25) scale(0.4774,0.4905)" stroke="#000" stroke-width="1.0" shape-rendering="crispEdges"><use href="#h54" x="-4"/><use href="#h48" x="16"/><use href="#h48" x="36"/></g>
<g transform="translate(28.45,465.33) scale(0.4774,0.4905)" stroke="#000" stroke-width="1.0" shape-rendering="crispEdges"><use href="#h54" x="-4"/><use href="#h53" x="16"/><use href="#h48" x="36"/></g>
<g transform="translate(28.45,505.22) scale(0.4685,0.4905)" stroke="#000" stroke-width="1.0" shape-rendering="crispEdges"><use href="#h55" x="-3"/><use href="#h48" x="17"/><use href="#h48" x="37"/></g>
<g transform="translate(28.45,542.35) scale(0.4685,0.4905)" stroke="#000" stroke-width="1.0" shape-rendering="crispEdges"><use href="#h55" x="-3"/><use href="#h53" x="17"/><use href="#h48" x="37"/></g>
<g transform="translate(28.45,577.08) scale(0.4685,0.4905)" stroke="#000" stroke-width="1.0" shape-rendering="crispEdges"><use href="#h56" x="-3"/><use href="#h48" x="17"/><use href="#h48" x="37"/></g>
<g transform="translate(28.45,609.71) scale(0.4685,0.4905)" stroke="#000" stroke-width="1.0" shape-rendering="crispEdges"><use href="#h56" x="-3"/><use href="#h53" x="17"/><use href="#h48" x="37"/></g>
<g transform="translate(28.45,640.47) scale(0.4685,0.4905)" stroke="#000" stroke-width="1.0" shape-rendering="crispEdges"><use href="#h57" x="-3"/><use href="#h48" x="17"/><use href="#h48" x="37"/></g>
<g transform="translate(28.45,669.57) scale(0.4685,0.4905)" stroke="#000" stroke-width="1.0" shape-rendering="crispEdges"><use href="#h57" x="-3"/><use href="#h53" x="17"/><use href="#h48" x="37"/></g>
<g transform="translate(31.25,19.60) scale(0.5824,0.5286)" stroke="#000" stroke-width="1.0" shape-rendering="crispEdges"><use href="#h104" x="-4"/><use href="#h80" x="15"/><use href="#h97" x="36"/></g>
<g transform="translate(43.00,709.50) scale(0.5860,0.5095)" stroke="#000" stroke-width="1.0" shape-rendering="crispEdges"><use href="#h45" x="-4"/><use href="#h52" x="22"/><use href="#h48" x="42"/></g>
<g transform="translate(109.00,709.50) scale(0.5860,0.5095)" stroke="#000" stroke-width="1.0" shape-rendering="crispEdges"><use href="#h45" x="-4"/><use href="#h51" x="22"/><use href="#h48" x="42"/></g>
<g transform="translate(175.00,709.50) scale(0.5860,0.5095)" stroke="#000" stroke-width="1.0" shape-rendering="crispEdges"><use href="#h45" x="-4"/><use href="#h50" x="22"/><use href="#h48" x="42"/></g>
<g transform="translate(241.00,709.50) scale(0.5860,0.5095)" stroke="#000" stroke-width="1.0" shape-rendering="crispEdges"><use href="#h45" x="-4"/><use href="#h49" x="22"/><use href="#h48" x="42"/></g>
<g transform="translate(318.80,709.50) scale(0.5860,0.5095)" stroke="#000" stroke-width="1.0" shape-rendering="crispEdges"><use href="#h48" x="-3"/></g>
<g transform="translate(381.80,709.50) scale(0.5860,0.5095)" stroke="#000" stroke-width="1.0" shape-rendering="crispEdges"><use href="#h49" x="-6"/><use href="#h48" x="14"/></g>
<g transform="translate(445.80,709.50) scale(0.5860,0.5095)" stroke="#000" stroke-width="1.0" shape-rendering="crispEdges"><use href="#h50" x="-3"/><use href="#h48" x="17"/></g>
<g transform="translate(511.60,709.50) scale(0.5860,0.5095)" stroke="#000" stroke-width="1.0" shape-rendering="crispEdges"><use href="#h51" x="-3"/><use href="#h48" x="17"/></g>
</g>
<g transform="translate(185.45,727.50) scale(0.6925,0.5476)" stroke="#000" stroke-width="1.0" shape-rendering="crispEdges"><use href="#h68" x="-4"/><use href="#h101" x="17"/><use href="#h119" x="35"/><use href="#h112" x="57"/><use href="#h111" x="76"/><use href="#h105" x="95"/><use href="#h110" x="103"/><use href="#h116" x="122"/><use href="#h47" x="150"/><use href="#h84" x="188"/><use href="#h101" x="204"/><use href="#h109" x="222"/><use href="#h112" x="252"/><use href="#h101" x="271"/><use href="#h114" x="289"/><use href="#h97" x="302"/><use href="#h116" x="321"/><use href="#h117" x="333"/><use href="#h114" x="352"/><use href="#h101" x="365"/><use href="#h40" x="399"/><use href="#h730" x="413"/><use href="#h67" x="424"/><use href="#h41" x="445"/></g>
<g transform="translate(93.25,28.70) scale(0.6947,0.5762)" stroke="#000" stroke-width="1.5"><use href="#h53" x="-3"/><use href="#h49" x="17"/><use href="#h8304" x="37"/><use href="#h50" x="50.5"/><use href="#h52" x="70.5"/><use href="#h39" x="90.5"/><use href="#h78" x="98.5"/><use href="#h51" x="136.5"/><use href="#h53" x="156.5"/><use href="#h54" x="176.5"/><use href="#h8304" x="196.5"/><use href="#h50" x="210"/><use href="#h49" x="230"/><use href="#h39" x="250"/><use href="#h87" x="258"/><use href="#h53" x="298"/><use href="#h51" x="318"/><use href="#h109" x="338"/><use href="#h65" x="384"/><use href="#h83" x="402"/><use href="#h76" x="422"/></g>
<g transform="translate(652.45,28.70) scale(0.6992,0.5762)" stroke="#000" stroke-width="1.5"><use href="#h48" x="-3"/><use href="#h51" x="17"/><use href="#h46" x="37"/><use href="#h48" x="47"/><use href="#h49" x="67"/><use href="#h46" x="87"/><use href="#h50" x="97"/><use href="#h48" x="117"/><use href="#h50" x="137"/><use href="#h50" x="157"/><use href="#h49" x="193"/><use href="#h56" x="213"/><use href="#h71" x="233"/><use href="#h77" x="254"/><use href="#h84" x="278"/><use href="#h40" x="310"/><use href="#h66" x="324"/><use href="#h97" x="345"/><use href="#h115" x="364"/><use href="#h101" x="381"/><use href="#h58" x="399"/><use href="#h48" x="425"/><use href="#h48" x="445"/><use href="#h41" x="465"/></g>
<g font-size="15" fill="#000">
<g transform="translate(597.35,19.40) scale(0.5795,0.5143)" stroke="#000" stroke-width="1.0" shape-rendering="crispEdges"><use href="#h107" x="-4"/><use href="#h109" x="13"/></g>
<g transform="translate(596.45,40.20) scale(0.5472,0.4714)" stroke="#000" stroke-width="1.0" shape-rendering="crispEdges"><use href="#h65" x="-1"/><use href="#h83" x="17"/><use href="#h76" x="37"/></g>
<g transform="translate(599.50,205.90) scale(0.6000,0.4905)" stroke="#000" stroke-width="1.0" shape-rendering="crispEdges"><use href="#h55" x="0"/></g>
<g transform="translate(599.50,281.70) scale(0.6000,0.4905)" stroke="#000" stroke-width="1.0" shape-rendering="crispEdges"><use href="#h54" x="0"/></g>
<g transform="translate(599.50,354.70) scale(0.6000,0.4905)" stroke="#000" stroke-width="1.0" shape-rendering="crispEdges"><use href="#h53" x="0"/></g>
<g transform="translate(599.50,426.70) scale(0.6000,0.4905)" stroke="#000" stroke-width="1.0" shape-rendering="crispEdges"><use href="#h52" x="0"/></g>
<g transform="translate(599.50,497.30) scale(0.6000,0.4905)" stroke="#000" stroke-width="1.0" shape-rendering="crispEdges"><use href="#h51" x="0"/></g>
<g transform="translate(599.50,566.50) scale(0.6000,0.4905)" stroke="#000" stroke-width="1.0" shape-rendering="crispEdges"><use href="#h50" x="0"/></g>
<g transform="translate(599.50,633.40) scale(0.6000,0.4905)" stroke="#000" stroke-width="1.0" shape-rendering="crispEdges"><use href="#h49" x="0"/></g>
<g transform="translate(610.45,679.80) scale(0.5680,0.4810)" stroke="#000" stroke-width="1.0" shape-rendering="crispEdges"><use href="#h76" x="-4"/><use href="#h67" x="13"/><use href="#h76" x="34"/></g>
<path d="M591 200.8 H597.5 M591 276.6 H597.5 M591 349.6 H597.5 M591 421.6 H597.5 M591 492.2 H597.5 M591 561.4 H597.5 M591 628.3 H597.5 M591 674.8 H601" stroke="#000" stroke-width="1.3"/>
<g transform="translate(628.25,506.50) rotate(-90) scale(0.5515,0.5048)" stroke="#000" stroke-width="1.0" shape-rendering="crispEdges"><use href="#h77" x="-4"/><use href="#h105" x="20"/><use href="#h120" x="28"/><use href="#h105" x="45"/><use href="#h110" x="53"/><use href="#h103" x="72"/><use href="#h82" x="107"/><use href="#h97" x="128"/><use href="#h116" x="147"/><use href="#h105" x="159"/><use href="#h111" x="167"/><use href="#h40" x="202"/><use href="#h103" x="216"/><use href="#h47" x="235"/><use href="#h107" x="257"/><use href="#h103" x="274"/><use href="#h41" x="293"/></g>
</g>
<line x1="681.5" y1="44" x2="681.5" y2="690.5" stroke="#000" stroke-width="1" shape-rendering="crispEdges"/>
<g stroke="#fa3c3c" fill="#fa3c3c" stroke-width="1" stroke-linecap="square" shape-rendering="crispEdges">
<circle cx="681.7" cy="44.2" r="2.6" stroke="none" shape-rendering="auto"/>
<line x1="681.7" y1="44.2" x2="648.2" y2="51.9"/>
<path d="M647.1 39.0 L648.2 51.9 L653.1 51.2 Z"/>
<path d="M653.4 37.2 L653.8 50.9 L660.1 49.1 Z"/>
<line x1="663.2" y1="48.1" x2="659.4" y2="36.2"/>
<line x1="667.8" y1="47.3" x2="664.3" y2="35.1"/>
</g>
<g stroke="#fa3c3c" fill="#fa3c3c" stroke-width="1" stroke-linecap="square" shape-rendering="crispEdges">
<circle cx="681.7" cy="198.8" r="2.6" stroke="none" shape-rendering="auto"/>
<line x1="681.7" y1="198.8" x2="648.2" y2="208.0"/>
<path d="M647.1 194.0 L648.2 208.0 L653.8 206.2 Z"/>
<line x1="656.9" y1="205.2" x2="653.4" y2="192.9"/>
<line x1="661.5" y1="204.1" x2="657.3" y2="192.2"/>
<line x1="666.0" y1="202.7" x2="662.4" y2="190.1"/>
<line x1="669.9" y1="201.3" x2="666.4" y2="189.1"/>
<line x1="674.4" y1="199.9" x2="673.4" y2="195.0"/>
</g>
<g stroke="#fa3c3c" fill="#fa3c3c" stroke-width="1" stroke-linecap="square" shape-rendering="crispEdges">
<circle cx="681.7" cy="318.9" r="2.6" stroke="none" shape-rendering="auto"/>
<line x1="681.7" y1="318.9" x2="648.2" y2="325.1"/>
<path d="M647.1 312.1 L648.2 325.1 L653.1 324.7 Z"/>
<line x1="656.2" y1="323.7" x2="654.5" y2="311.1"/>
</g>
<g stroke="#1e3cff" fill="#1e3cff" stroke-width="1" stroke-linecap="square" shape-rendering="crispEdges">
<circle cx="681.7" cy="499.8" r="2.6" stroke="none" shape-rendering="auto"/>
<line x1="681.7" y1="499.8" x2="650.3" y2="505.4"/>
<line x1="650.3" y1="505.4" x2="648.3" y2="492.1"/>
<line x1="654.5" y1="504.0" x2="652.4" y2="491.4"/>
<line x1="659.4" y1="503.3" x2="657.4" y2="490.0"/>
<line x1="663.6" y1="503.0" x2="662.3" y2="497.3"/>
</g>
<g stroke="#00c8c8" fill="#00c8c8" stroke-width="1" stroke-linecap="square" shape-rendering="crispEdges">
<circle cx="681.7" cy="604.2" r="2.6" stroke="none" shape-rendering="auto"/>
<line x1="681.7" y1="604.2" x2="650.3" y2="608.5"/>
<line x1="650.3" y1="608.5" x2="648.4" y2="595.0"/>
<line x1="654.3" y1="607.6" x2="652.5" y2="595.0"/>
<line x1="659.9" y1="606.7" x2="658.5" y2="601.1"/>
</g>
<g stroke="#00c8c8" fill="#00c8c8" stroke-width="1" stroke-linecap="square" shape-rendering="crispEdges">
<circle cx="681.7" cy="635.5" r="2.6" stroke="none" shape-rendering="auto"/>
<line x1="681.7" y1="635.5" x2="650.3" y2="639.6"/>
<line x1="650.3" y1="639.6" x2="648.4" y2="626.1"/>
<line x1="654.6" y1="638.4" x2="653.3" y2="625.2"/>
<line x1="659.9" y1="637.7" x2="658.5" y2="631.0"/>
</g>
<g stroke="#00d28c" fill="#00d28c" stroke-width="1" stroke-linecap="square" shape-rendering="crispEdges">
<circle cx="681.7" cy="650.0" r="2.6" stroke="none" shape-rendering="auto"/>
<line x1="681.7" y1="650.0" x2="650.3" y2="654.6"/>
<line x1="650.3" y1="654.6" x2="648.4" y2="641.1"/>
<line x1="654.3" y1="653.7" x2="652.5" y2="639.6"/>
</g>
<g stroke="#a0e632" fill="#a0e632" stroke-width="1" stroke-linecap="square" shape-rendering="crispEdges">
<circle cx="681.7" cy="690.7" r="2.6" stroke="none" shape-rendering="auto"/>
<line x1="681.7" y1="690.7" x2="652.9" y2="701.3"/>
<line x1="652.9" y1="701.3" x2="647.4" y2="689.2"/>
</g>
<rect x="727" y="44" width="182" height="172" fill="#fff" stroke="#000" stroke-width="2" shape-rendering="crispEdges"/>
<defs><clipPath id="hc"><rect x="728" y="45" width="180" height="170"/></clipPath></defs>
<g clip-path="url(#hc)" fill="none">
<ellipse cx="818.5" cy="130.5" rx="30.1" ry="28.8" stroke="#aaaaaa" stroke-width="1"/>
<ellipse cx="818.5" cy="130.5" rx="60.2" ry="57.6" stroke="#aaaaaa" stroke-width="1"/>
<ellipse cx="818.5" cy="130.5" rx="90.3" ry="86.4" stroke="#aaaaaa" stroke-width="1"/>
<path d="M728 130.5 H909 M818.5 45 V215" stroke="#000" stroke-width="1" shape-rendering="crispEdges"/>
<path d="M728.5 128.0 V134.0 M815.0 44.5 H821.0 M735.5 128.0 V134.0 M815.0 51.5 H821.0 M743.5 128.0 V134.0 M815.0 58.5 H821.0 M750.5 128.0 V134.0 M815.0 65.5 H821.0 M758.5 128.0 V134.0 M815.0 72.5 H821.0 M765.5 128.0 V134.0 M815.0 80.5 H821.0 M773.5 128.0 V134.0 M815.0 87.5 H821.0 M780.5 128.0 V134.0 M815.0 94.5 H821.0 M788.5 128.0 V134.0 M815.0 101.5 H821.0 M795.5 128.0 V134.0 M815.0 108.5 H821.0 M803.5 128.0 V134.0 M815.0 116.5 H821.0 M810.5 128.0 V134.0 M815.0 123.5 H821.0 M826.5 128.0 V134.0 M815.0 137.5 H821.0 M833.5 128.0 V134.0 M815.0 144.5 H821.0 M841.5 128.0 V134.0 M815.0 152.5 H821.0 M848.5 128.0 V134.0 M815.0 159.5 H821.0 M856.5 128.0 V134.0 M815.0 166.5 H821.0 M863.5 128.0 V134.0 M815.0 173.5 H821.0 M871.5 128.0 V134.0 M815.0 180.5 H821.0 M878.5 128.0 V134.0 M815.0 188.5 H821.0 M886.5 128.0 V134.0 M815.0 195.5 H821.0 M893.5 128.0 V134.0 M815.0 202.5 H821.0 M901.5 128.0 V134.0 M815.0 209.5 H821.0 M908.5 128.0 V134.0 M815.0 216.5 H821.0" stroke="#000" stroke-width="1" shape-rendering="crispEdges"/>
</g>
<g transform="translate(797.40,150.00) rotate(-45) translate(0,4.3) scale(0.4800,0.3857)" stroke="#aaaaaa" stroke-width="1.0" shape-rendering="crispEdges"><use href="#h52" x="-20"/><use href="#h48" x="0"/></g>
<g transform="translate(776.00,171.40) rotate(-45) translate(0,4.3) scale(0.4800,0.3857)" stroke="#aaaaaa" stroke-width="1.0" shape-rendering="crispEdges"><use href="#h56" x="-20"/><use href="#h48" x="0"/></g>
<g transform="translate(754.40,190.60) rotate(-45) translate(0,4.3) scale(0.4800,0.3857)" stroke="#aaaaaa" stroke-width="1.0" shape-rendering="crispEdges"><use href="#h49" x="-31.5"/><use href="#h50" x="-11.5"/><use href="#h48" x="8.5"/></g>
<g transform="translate(732.75,56.70) scale(0.4957,0.3762)" stroke="#000" stroke-width="1.0" shape-rendering="crispEdges"><use href="#h107" x="-4"/><use href="#h116" x="13"/></g>
<path d="M825.5 127.2 L833.4 128.6 L848.7 124.7 L864 121.1 L876.6 115.3 L888.5 110.5" fill="none" stroke="#000" stroke-width="1.2"/>
<circle cx="825.5" cy="127.2" r="2.4"/><circle cx="888.5" cy="110.5" r="2.6"/>
<path d="M825.5 127.2 V131.5 M823.5 131 L846 132.8" fill="none" stroke="#000" stroke-width="1.4"/>
<path d="M846.8 132.8 L838.6 128.1 L838.2 137.5 Z" fill="#000"/>
<path d="M727.5 703.5 V233.5 H927.5 V703.5 Z M727.5 302.5 H927.5 M727.5 458.5 H927.5 M727.5 591.5 H927.5" fill="none" stroke="#000" stroke-width="1" shape-rendering="crispEdges"/>
<path d="M725 301 H930 M725 457 H930" stroke="#fff" stroke-width="2" shape-rendering="crispEdges"/>
<g font-size="16" fill="#000">
<g transform="translate(731.60,252.50) scale(0.5770,0.5048)" stroke="#000" stroke-width="1.0" shape-rendering="crispEdges"><use href="#h75" x="0"/></g>
<g transform="translate(872.30,252.50) scale(0.5770,0.5048)" stroke="#000" stroke-width="1.0" shape-rendering="crispEdges"><use href="#h54" x="0"/></g>
<g transform="translate(731.60,273.90) scale(0.5770,0.5048)" stroke="#000" stroke-width="1.0" shape-rendering="crispEdges"><use href="#h84" x="0"/><use href="#h111" x="16"/><use href="#h116" x="35"/><use href="#h97" x="47"/><use href="#h108" x="66"/><use href="#h115" x="74"/><use href="#h84" x="107"/><use href="#h111" x="123"/><use href="#h116" x="142"/><use href="#h97" x="154"/><use href="#h108" x="173"/><use href="#h115" x="181"/></g>
<g transform="translate(872.30,273.90) scale(0.5770,0.5048)" stroke="#000" stroke-width="1.0" shape-rendering="crispEdges"><use href="#h51" x="0"/><use href="#h55" x="20"/></g>
<g transform="translate(731.60,295.30) scale(0.5770,0.5048)" stroke="#000" stroke-width="1.0" shape-rendering="crispEdges"><use href="#h80" x="0"/><use href="#h87" x="21"/><use href="#h40" x="61"/><use href="#h99" x="75"/><use href="#h109" x="93"/><use href="#h41" x="123"/></g>
<g transform="translate(872.30,295.30) scale(0.5770,0.5048)" stroke="#000" stroke-width="1.0" shape-rendering="crispEdges"><use href="#h49" x="0"/><use href="#h46" x="20"/><use href="#h48" x="30"/><use href="#h53" x="50"/></g>
<g transform="translate(731.60,342.20) scale(0.5770,0.5048)" stroke="#000" stroke-width="1.0" shape-rendering="crispEdges"><use href="#h84" x="0"/><use href="#h101" x="16"/><use href="#h109" x="34"/><use href="#h112" x="64"/><use href="#h40" x="99"/><use href="#h176" x="113"/><use href="#h67" x="124"/><use href="#h41" x="145"/></g>
<g transform="translate(872.30,342.20) scale(0.5770,0.5048)" stroke="#000" stroke-width="1.0" shape-rendering="crispEdges"><use href="#h56" x="0"/><use href="#h46" x="20"/><use href="#h52" x="30"/></g>
<g transform="translate(731.60,364.10) scale(0.5770,0.5048)" stroke="#000" stroke-width="1.0" shape-rendering="crispEdges"><use href="#h68" x="0"/><use href="#h101" x="21"/><use href="#h119" x="39"/><use href="#h112" x="61"/><use href="#h40" x="96"/><use href="#h176" x="110"/><use href="#h67" x="121"/><use href="#h41" x="142"/></g>
<g transform="translate(872.30,364.10) scale(0.5770,0.5048)" stroke="#000" stroke-width="1.0" shape-rendering="crispEdges"><use href="#h54" x="0"/><use href="#h46" x="20"/><use href="#h53" x="30"/></g>
<g transform="translate(733.8,386.0)" fill="none" stroke="#000"><g transform="skewX(-14)" stroke-width="1.9"><ellipse cx="2.9" cy="-5.4" rx="2.9" ry="4.6"/><path d="M0.3 -5.4 H5.6" stroke-width="1.5"/></g><path d="M13.2 -2.3 H9.7 V2 H13.2 M9.7 -0.2 H12.5" stroke-width="1.3"/></g>
<g transform="translate(749.00,385.50) scale(0.5770,0.5048)" stroke="#000" stroke-width="1.0" shape-rendering="crispEdges"><use href="#h40" x="-4"/><use href="#h75" x="10"/><use href="#h41" x="31"/></g>
<g transform="translate(872.30,385.50) scale(0.5770,0.5048)" stroke="#000" stroke-width="1.0" shape-rendering="crispEdges"><use href="#h50" x="0"/><use href="#h57" x="20"/><use href="#h56" x="40"/></g>
<g transform="translate(731.60,406.80) scale(0.5770,0.5048)" stroke="#000" stroke-width="1.0" shape-rendering="crispEdges"><use href="#h76" x="0"/><use href="#h105" x="17"/><use href="#h102" x="25"/><use href="#h116" x="37"/><use href="#h101" x="49"/><use href="#h100" x="67"/><use href="#h73" x="102"/><use href="#h110" x="110"/><use href="#h100" x="129"/><use href="#h101" x="148"/><use href="#h120" x="166"/></g>
<g transform="translate(872.30,406.80) scale(0.5770,0.5048)" stroke="#000" stroke-width="1.0" shape-rendering="crispEdges"><use href="#h56" x="0"/></g>
<g transform="translate(731.60,428.50) scale(0.5770,0.5048)" stroke="#000" stroke-width="1.0" shape-rendering="crispEdges"><use href="#h67" x="0"/><use href="#h65" x="21"/><use href="#h80" x="39"/><use href="#h69" x="60"/><use href="#h40" x="95"/><use href="#h74" x="109"/><use href="#h41" x="125"/></g>
<g transform="translate(872.30,428.50) scale(0.5770,0.5048)" stroke="#000" stroke-width="1.0" shape-rendering="crispEdges"><use href="#h51" x="0"/></g>
<g transform="translate(731.60,449.80) scale(0.5770,0.5048)" stroke="#000" stroke-width="1.0" shape-rendering="crispEdges"><use href="#h67" x="0"/><use href="#h73" x="21"/><use href="#h78" x="29"/><use href="#h40" x="67"/><use href="#h74" x="81"/><use href="#h41" x="97"/></g>
<g transform="translate(872.30,449.80) scale(0.5770,0.5048)" stroke="#000" stroke-width="1.0" shape-rendering="crispEdges"><use href="#h54" x="0"/></g>
<g transform="translate(731.60,497.20) scale(0.5770,0.5048)" stroke="#000" stroke-width="1.0" shape-rendering="crispEdges"><use href="#h80" x="0"/><use href="#h114" x="21"/><use href="#h101" x="34"/><use href="#h115" x="52"/><use href="#h115" x="69"/><use href="#h117" x="86"/><use href="#h114" x="105"/><use href="#h101" x="118"/><use href="#h40" x="152"/><use href="#h109" x="166"/><use href="#h98" x="196"/><use href="#h41" x="215"/></g>
<g transform="translate(872.30,497.20) scale(0.5770,0.5048)" stroke="#000" stroke-width="1.0" shape-rendering="crispEdges"><use href="#h57" x="0"/><use href="#h55" x="20"/><use href="#h53" x="40"/></g>
<g transform="translate(733.8,519.3)" fill="none" stroke="#000"><g transform="skewX(-14)" stroke-width="1.9"><ellipse cx="2.9" cy="-5.4" rx="2.9" ry="4.6"/><path d="M0.3 -5.4 H5.6" stroke-width="1.5"/></g><path d="M13.2 -2.3 H9.7 V2 H13.2 M9.7 -0.2 H12.5" stroke-width="1.3"/></g>
<g transform="translate(758.60,518.80) scale(0.5770,0.5048)" stroke="#000" stroke-width="1.0" shape-rendering="crispEdges"><use href="#h40" x="-4"/><use href="#h75" x="10"/><use href="#h41" x="31"/></g>
<g transform="translate(872.30,518.80) scale(0.5770,0.5048)" stroke="#000" stroke-width="1.0" shape-rendering="crispEdges"><use href="#h50" x="0"/><use href="#h57" x="20"/><use href="#h56" x="40"/></g>
<g transform="translate(731.60,540.50) scale(0.5770,0.5048)" stroke="#000" stroke-width="1.0" shape-rendering="crispEdges"><use href="#h76" x="0"/><use href="#h105" x="17"/><use href="#h102" x="25"/><use href="#h116" x="37"/><use href="#h101" x="49"/><use href="#h100" x="67"/><use href="#h73" x="102"/><use href="#h110" x="110"/><use href="#h100" x="129"/><use href="#h101" x="148"/><use href="#h120" x="166"/></g>
<g transform="translate(872.30,540.50) scale(0.5770,0.5048)" stroke="#000" stroke-width="1.0" shape-rendering="crispEdges"><use href="#h56" x="0"/></g>
<g transform="translate(731.60,562.50) scale(0.5770,0.5048)" stroke="#000" stroke-width="1.0" shape-rendering="crispEdges"><use href="#h67" x="0"/><use href="#h65" x="21"/><use href="#h80" x="39"/><use href="#h69" x="60"/><use href="#h40" x="95"/><use href="#h74" x="109"/><use href="#h41" x="125"/></g>
<g transform="translate(872.30,562.50) scale(0.5770,0.5048)" stroke="#000" stroke-width="1.0" shape-rendering="crispEdges"><use href="#h53" x="0"/></g>
<g transform="translate(731.60,583.90) scale(0.5770,0.5048)" stroke="#000" stroke-width="1.0" shape-rendering="crispEdges"><use href="#h67" x="0"/><use href="#h73" x="21"/><use href="#h78" x="29"/><use href="#h40" x="67"/><use href="#h74" x="81"/><use href="#h41" x="97"/></g>
<g transform="translate(872.30,583.90) scale(0.5770,0.5048)" stroke="#000" stroke-width="1.0" shape-rendering="crispEdges"><use href="#h49" x="0"/></g>
<g transform="translate(731.60,631.50) scale(0.5770,0.5048)" stroke="#000" stroke-width="1.0" shape-rendering="crispEdges"><use href="#h69" x="0"/><use href="#h72" x="19"/></g>
<g transform="translate(872.30,631.50) scale(0.5770,0.5048)" stroke="#000" stroke-width="1.0" shape-rendering="crispEdges"><use href="#h50" x="0"/></g>
<g transform="translate(731.60,652.90) scale(0.5770,0.5048)" stroke="#000" stroke-width="1.0" shape-rendering="crispEdges"><use href="#h83" x="0"/><use href="#h82" x="20"/><use href="#h69" x="41"/><use href="#h72" x="60"/></g>
<g transform="translate(872.30,652.90) scale(0.5770,0.5048)" stroke="#000" stroke-width="1.0" shape-rendering="crispEdges"><use href="#h52" x="0"/><use href="#h57" x="20"/></g>
<g transform="translate(731.60,674.50) scale(0.5770,0.5048)" stroke="#000" stroke-width="1.0" shape-rendering="crispEdges"><use href="#h83" x="0"/><use href="#h116" x="20"/><use href="#h109" x="32"/><use href="#h68" x="62"/><use href="#h105" x="83"/><use href="#h114" x="91"/></g>
<g transform="translate(872.30,674.50) scale(0.5770,0.5048)" stroke="#000" stroke-width="1.0" shape-rendering="crispEdges"><use href="#h50" x="0"/><use href="#h55" x="20"/><use href="#h55" x="40"/><use href="#h176" x="60"/></g>
<g transform="translate(731.60,696.00) scale(0.5770,0.5048)" stroke="#000" stroke-width="1.0" shape-rendering="crispEdges"><use href="#h83" x="0"/><use href="#h116" x="20"/><use href="#h109" x="32"/><use href="#h83" x="62"/><use href="#h112" x="82"/><use href="#h100" x="101"/><use href="#h40" x="136"/><use href="#h107" x="150"/><use href="#h116" x="167"/><use href="#h41" x="179"/></g>
<g transform="translate(872.30,696.00) scale(0.5770,0.5048)" stroke="#000" stroke-width="1.0" shape-rendering="crispEdges"><use href="#h51" x="0"/><use href="#h56" x="20"/></g>
<g transform="translate(820.50,321.10) scale(0.5800,0.5048)" stroke="#000" stroke-width="1.0" shape-rendering="crispEdges"><use href="#h83" x="-59.5"/><use href="#h117" x="-39.5"/><use href="#h114" x="-20.5"/><use href="#h102" x="-7.5"/><use href="#h97" x="4.5"/><use href="#h99" x="23.5"/><use href="#h101" x="41.5"/></g>
<g transform="translate(816.20,475.80) scale(0.5800,0.5048)" stroke="#000" stroke-width="1.0" shape-rendering="crispEdges"><use href="#h77" x="-111.5"/><use href="#h111" x="-87.5"/><use href="#h115" x="-68.5"/><use href="#h116" x="-51.5"/><use href="#h85" x="-23.5"/><use href="#h110" x="-1.5"/><use href="#h115" x="17.5"/><use href="#h116" x="34.5"/><use href="#h97" x="46.5"/><use href="#h98" x="65.5"/><use href="#h108" x="84.5"/><use href="#h101" x="92.5"/></g>
<g transform="translate(818.20,609.20) scale(0.5800,0.5048)" stroke="#000" stroke-width="1.0" shape-rendering="crispEdges"><use href="#h72" x="-84"/><use href="#h111" x="-62"/><use href="#h100" x="-43"/><use href="#h111" x="-24"/><use href="#h103" x="-5"/><use href="#h114" x="14"/><use href="#h97" x="27"/><use href="#h112" x="46"/><use href="#h104" x="65"/></g>
</g>
<ellipse cx="723.4" cy="722.6" rx="7.8" ry="6.8" fill="none" stroke="#000" stroke-width="1.3"/>
<g transform="translate(723.60,726.10) scale(0.6000,0.5048)" stroke="#000" stroke-width="1.5"><use href="#h99" x="-9"/></g>
<g transform="translate(739.05,727.80) scale(0.7053,0.5286)" stroke="#000" stroke-width="1.6"><use href="#h119" x="-3"/><use href="#h101" x="19"/><use href="#h97" x="37"/><use href="#h116" x="56"/><use href="#h104" x="68"/><use href="#h101" x="87"/><use href="#h114" x="105"/><use href="#h111" x="118"/><use href="#h110" x="137"/><use href="#h108" x="156"/><use href="#h105" x="164"/><use href="#h110" x="172"/><use href="#h101" x="191"/><use href="#h46" x="209"/><use href="#h99" x="219"/><use href="#h111" x="237"/><use href="#h46" x="256"/><use href="#h117" x="266"/><use href="#h107" x="285"/></g>
</svg>
</body></html>
